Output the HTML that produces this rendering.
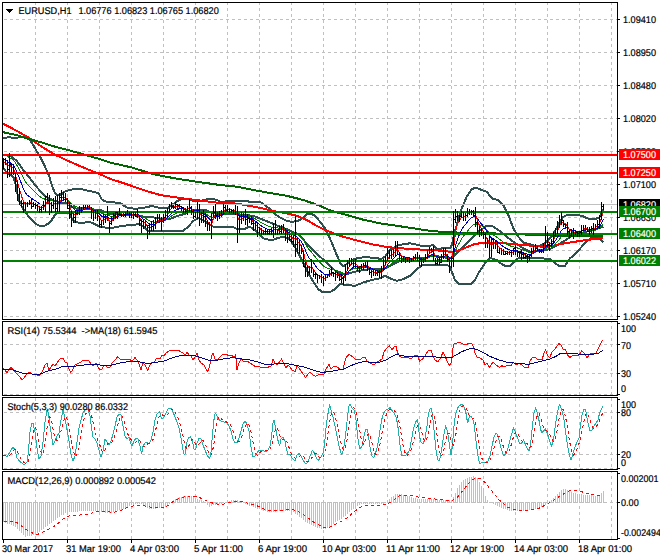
<!DOCTYPE html>
<html><head><meta charset="utf-8"><title>EURUSD,H1</title>
<style>
html,body{margin:0;padding:0;background:#fff;}
body{width:660px;height:560px;overflow:hidden;}
svg{display:block;}
svg text{font-family:"Liberation Sans",sans-serif;font-size:9.8px;text-rendering:geometricPrecision;white-space:pre;}
svg rect{shape-rendering:crispEdges;}
</style></head><body>
<svg width="660" height="560" viewBox="0 0 660 560">
<rect x="0" y="0" width="660" height="560" fill="#fff"/>
<line x1="35.5" y1="3" x2="35.5" y2="319" stroke="#c0c0c0" stroke-width="1" stroke-dasharray="3 3" stroke-dashoffset="1" shape-rendering="crispEdges"/>
<line x1="67.5" y1="3" x2="67.5" y2="319" stroke="#c0c0c0" stroke-width="1" stroke-dasharray="3 3" stroke-dashoffset="1" shape-rendering="crispEdges"/>
<line x1="99.5" y1="3" x2="99.5" y2="319" stroke="#c0c0c0" stroke-width="1" stroke-dasharray="3 3" stroke-dashoffset="1" shape-rendering="crispEdges"/>
<line x1="131.5" y1="3" x2="131.5" y2="319" stroke="#c0c0c0" stroke-width="1" stroke-dasharray="3 3" stroke-dashoffset="1" shape-rendering="crispEdges"/>
<line x1="163.5" y1="3" x2="163.5" y2="319" stroke="#c0c0c0" stroke-width="1" stroke-dasharray="3 3" stroke-dashoffset="1" shape-rendering="crispEdges"/>
<line x1="195.5" y1="3" x2="195.5" y2="319" stroke="#c0c0c0" stroke-width="1" stroke-dasharray="3 3" stroke-dashoffset="1" shape-rendering="crispEdges"/>
<line x1="227.5" y1="3" x2="227.5" y2="319" stroke="#c0c0c0" stroke-width="1" stroke-dasharray="3 3" stroke-dashoffset="1" shape-rendering="crispEdges"/>
<line x1="259.5" y1="3" x2="259.5" y2="319" stroke="#c0c0c0" stroke-width="1" stroke-dasharray="3 3" stroke-dashoffset="1" shape-rendering="crispEdges"/>
<line x1="291.5" y1="3" x2="291.5" y2="319" stroke="#c0c0c0" stroke-width="1" stroke-dasharray="3 3" stroke-dashoffset="1" shape-rendering="crispEdges"/>
<line x1="323.5" y1="3" x2="323.5" y2="319" stroke="#c0c0c0" stroke-width="1" stroke-dasharray="3 3" stroke-dashoffset="1" shape-rendering="crispEdges"/>
<line x1="355.5" y1="3" x2="355.5" y2="319" stroke="#c0c0c0" stroke-width="1" stroke-dasharray="3 3" stroke-dashoffset="1" shape-rendering="crispEdges"/>
<line x1="387.5" y1="3" x2="387.5" y2="319" stroke="#c0c0c0" stroke-width="1" stroke-dasharray="3 3" stroke-dashoffset="1" shape-rendering="crispEdges"/>
<line x1="419.5" y1="3" x2="419.5" y2="319" stroke="#c0c0c0" stroke-width="1" stroke-dasharray="3 3" stroke-dashoffset="1" shape-rendering="crispEdges"/>
<line x1="451.5" y1="3" x2="451.5" y2="319" stroke="#c0c0c0" stroke-width="1" stroke-dasharray="3 3" stroke-dashoffset="1" shape-rendering="crispEdges"/>
<line x1="483.5" y1="3" x2="483.5" y2="319" stroke="#c0c0c0" stroke-width="1" stroke-dasharray="3 3" stroke-dashoffset="1" shape-rendering="crispEdges"/>
<line x1="515.5" y1="3" x2="515.5" y2="319" stroke="#c0c0c0" stroke-width="1" stroke-dasharray="3 3" stroke-dashoffset="1" shape-rendering="crispEdges"/>
<line x1="547.5" y1="3" x2="547.5" y2="319" stroke="#c0c0c0" stroke-width="1" stroke-dasharray="3 3" stroke-dashoffset="1" shape-rendering="crispEdges"/>
<line x1="579.5" y1="3" x2="579.5" y2="319" stroke="#c0c0c0" stroke-width="1" stroke-dasharray="3 3" stroke-dashoffset="1" shape-rendering="crispEdges"/>
<line x1="611.5" y1="3" x2="611.5" y2="319" stroke="#c0c0c0" stroke-width="1" stroke-dasharray="3 3" stroke-dashoffset="1" shape-rendering="crispEdges"/>
<line x1="35.5" y1="322" x2="35.5" y2="395" stroke="#c0c0c0" stroke-width="1" stroke-dasharray="3 3" stroke-dashoffset="2" shape-rendering="crispEdges"/>
<line x1="67.5" y1="322" x2="67.5" y2="395" stroke="#c0c0c0" stroke-width="1" stroke-dasharray="3 3" stroke-dashoffset="2" shape-rendering="crispEdges"/>
<line x1="99.5" y1="322" x2="99.5" y2="395" stroke="#c0c0c0" stroke-width="1" stroke-dasharray="3 3" stroke-dashoffset="2" shape-rendering="crispEdges"/>
<line x1="131.5" y1="322" x2="131.5" y2="395" stroke="#c0c0c0" stroke-width="1" stroke-dasharray="3 3" stroke-dashoffset="2" shape-rendering="crispEdges"/>
<line x1="163.5" y1="322" x2="163.5" y2="395" stroke="#c0c0c0" stroke-width="1" stroke-dasharray="3 3" stroke-dashoffset="2" shape-rendering="crispEdges"/>
<line x1="195.5" y1="322" x2="195.5" y2="395" stroke="#c0c0c0" stroke-width="1" stroke-dasharray="3 3" stroke-dashoffset="2" shape-rendering="crispEdges"/>
<line x1="227.5" y1="322" x2="227.5" y2="395" stroke="#c0c0c0" stroke-width="1" stroke-dasharray="3 3" stroke-dashoffset="2" shape-rendering="crispEdges"/>
<line x1="259.5" y1="322" x2="259.5" y2="395" stroke="#c0c0c0" stroke-width="1" stroke-dasharray="3 3" stroke-dashoffset="2" shape-rendering="crispEdges"/>
<line x1="291.5" y1="322" x2="291.5" y2="395" stroke="#c0c0c0" stroke-width="1" stroke-dasharray="3 3" stroke-dashoffset="2" shape-rendering="crispEdges"/>
<line x1="323.5" y1="322" x2="323.5" y2="395" stroke="#c0c0c0" stroke-width="1" stroke-dasharray="3 3" stroke-dashoffset="2" shape-rendering="crispEdges"/>
<line x1="355.5" y1="322" x2="355.5" y2="395" stroke="#c0c0c0" stroke-width="1" stroke-dasharray="3 3" stroke-dashoffset="2" shape-rendering="crispEdges"/>
<line x1="387.5" y1="322" x2="387.5" y2="395" stroke="#c0c0c0" stroke-width="1" stroke-dasharray="3 3" stroke-dashoffset="2" shape-rendering="crispEdges"/>
<line x1="419.5" y1="322" x2="419.5" y2="395" stroke="#c0c0c0" stroke-width="1" stroke-dasharray="3 3" stroke-dashoffset="2" shape-rendering="crispEdges"/>
<line x1="451.5" y1="322" x2="451.5" y2="395" stroke="#c0c0c0" stroke-width="1" stroke-dasharray="3 3" stroke-dashoffset="2" shape-rendering="crispEdges"/>
<line x1="483.5" y1="322" x2="483.5" y2="395" stroke="#c0c0c0" stroke-width="1" stroke-dasharray="3 3" stroke-dashoffset="2" shape-rendering="crispEdges"/>
<line x1="515.5" y1="322" x2="515.5" y2="395" stroke="#c0c0c0" stroke-width="1" stroke-dasharray="3 3" stroke-dashoffset="2" shape-rendering="crispEdges"/>
<line x1="547.5" y1="322" x2="547.5" y2="395" stroke="#c0c0c0" stroke-width="1" stroke-dasharray="3 3" stroke-dashoffset="2" shape-rendering="crispEdges"/>
<line x1="579.5" y1="322" x2="579.5" y2="395" stroke="#c0c0c0" stroke-width="1" stroke-dasharray="3 3" stroke-dashoffset="2" shape-rendering="crispEdges"/>
<line x1="611.5" y1="322" x2="611.5" y2="395" stroke="#c0c0c0" stroke-width="1" stroke-dasharray="3 3" stroke-dashoffset="2" shape-rendering="crispEdges"/>
<line x1="35.5" y1="398" x2="35.5" y2="469" stroke="#c0c0c0" stroke-width="1" stroke-dasharray="3 3" stroke-dashoffset="0" shape-rendering="crispEdges"/>
<line x1="67.5" y1="398" x2="67.5" y2="469" stroke="#c0c0c0" stroke-width="1" stroke-dasharray="3 3" stroke-dashoffset="0" shape-rendering="crispEdges"/>
<line x1="99.5" y1="398" x2="99.5" y2="469" stroke="#c0c0c0" stroke-width="1" stroke-dasharray="3 3" stroke-dashoffset="0" shape-rendering="crispEdges"/>
<line x1="131.5" y1="398" x2="131.5" y2="469" stroke="#c0c0c0" stroke-width="1" stroke-dasharray="3 3" stroke-dashoffset="0" shape-rendering="crispEdges"/>
<line x1="163.5" y1="398" x2="163.5" y2="469" stroke="#c0c0c0" stroke-width="1" stroke-dasharray="3 3" stroke-dashoffset="0" shape-rendering="crispEdges"/>
<line x1="195.5" y1="398" x2="195.5" y2="469" stroke="#c0c0c0" stroke-width="1" stroke-dasharray="3 3" stroke-dashoffset="0" shape-rendering="crispEdges"/>
<line x1="227.5" y1="398" x2="227.5" y2="469" stroke="#c0c0c0" stroke-width="1" stroke-dasharray="3 3" stroke-dashoffset="0" shape-rendering="crispEdges"/>
<line x1="259.5" y1="398" x2="259.5" y2="469" stroke="#c0c0c0" stroke-width="1" stroke-dasharray="3 3" stroke-dashoffset="0" shape-rendering="crispEdges"/>
<line x1="291.5" y1="398" x2="291.5" y2="469" stroke="#c0c0c0" stroke-width="1" stroke-dasharray="3 3" stroke-dashoffset="0" shape-rendering="crispEdges"/>
<line x1="323.5" y1="398" x2="323.5" y2="469" stroke="#c0c0c0" stroke-width="1" stroke-dasharray="3 3" stroke-dashoffset="0" shape-rendering="crispEdges"/>
<line x1="355.5" y1="398" x2="355.5" y2="469" stroke="#c0c0c0" stroke-width="1" stroke-dasharray="3 3" stroke-dashoffset="0" shape-rendering="crispEdges"/>
<line x1="387.5" y1="398" x2="387.5" y2="469" stroke="#c0c0c0" stroke-width="1" stroke-dasharray="3 3" stroke-dashoffset="0" shape-rendering="crispEdges"/>
<line x1="419.5" y1="398" x2="419.5" y2="469" stroke="#c0c0c0" stroke-width="1" stroke-dasharray="3 3" stroke-dashoffset="0" shape-rendering="crispEdges"/>
<line x1="451.5" y1="398" x2="451.5" y2="469" stroke="#c0c0c0" stroke-width="1" stroke-dasharray="3 3" stroke-dashoffset="0" shape-rendering="crispEdges"/>
<line x1="483.5" y1="398" x2="483.5" y2="469" stroke="#c0c0c0" stroke-width="1" stroke-dasharray="3 3" stroke-dashoffset="0" shape-rendering="crispEdges"/>
<line x1="515.5" y1="398" x2="515.5" y2="469" stroke="#c0c0c0" stroke-width="1" stroke-dasharray="3 3" stroke-dashoffset="0" shape-rendering="crispEdges"/>
<line x1="547.5" y1="398" x2="547.5" y2="469" stroke="#c0c0c0" stroke-width="1" stroke-dasharray="3 3" stroke-dashoffset="0" shape-rendering="crispEdges"/>
<line x1="579.5" y1="398" x2="579.5" y2="469" stroke="#c0c0c0" stroke-width="1" stroke-dasharray="3 3" stroke-dashoffset="0" shape-rendering="crispEdges"/>
<line x1="611.5" y1="398" x2="611.5" y2="469" stroke="#c0c0c0" stroke-width="1" stroke-dasharray="3 3" stroke-dashoffset="0" shape-rendering="crispEdges"/>
<line x1="35.5" y1="472" x2="35.5" y2="539" stroke="#c0c0c0" stroke-width="1" stroke-dasharray="3 3" stroke-dashoffset="2" shape-rendering="crispEdges"/>
<line x1="67.5" y1="472" x2="67.5" y2="539" stroke="#c0c0c0" stroke-width="1" stroke-dasharray="3 3" stroke-dashoffset="2" shape-rendering="crispEdges"/>
<line x1="99.5" y1="472" x2="99.5" y2="539" stroke="#c0c0c0" stroke-width="1" stroke-dasharray="3 3" stroke-dashoffset="2" shape-rendering="crispEdges"/>
<line x1="131.5" y1="472" x2="131.5" y2="539" stroke="#c0c0c0" stroke-width="1" stroke-dasharray="3 3" stroke-dashoffset="2" shape-rendering="crispEdges"/>
<line x1="163.5" y1="472" x2="163.5" y2="539" stroke="#c0c0c0" stroke-width="1" stroke-dasharray="3 3" stroke-dashoffset="2" shape-rendering="crispEdges"/>
<line x1="195.5" y1="472" x2="195.5" y2="539" stroke="#c0c0c0" stroke-width="1" stroke-dasharray="3 3" stroke-dashoffset="2" shape-rendering="crispEdges"/>
<line x1="227.5" y1="472" x2="227.5" y2="539" stroke="#c0c0c0" stroke-width="1" stroke-dasharray="3 3" stroke-dashoffset="2" shape-rendering="crispEdges"/>
<line x1="259.5" y1="472" x2="259.5" y2="539" stroke="#c0c0c0" stroke-width="1" stroke-dasharray="3 3" stroke-dashoffset="2" shape-rendering="crispEdges"/>
<line x1="291.5" y1="472" x2="291.5" y2="539" stroke="#c0c0c0" stroke-width="1" stroke-dasharray="3 3" stroke-dashoffset="2" shape-rendering="crispEdges"/>
<line x1="323.5" y1="472" x2="323.5" y2="539" stroke="#c0c0c0" stroke-width="1" stroke-dasharray="3 3" stroke-dashoffset="2" shape-rendering="crispEdges"/>
<line x1="355.5" y1="472" x2="355.5" y2="539" stroke="#c0c0c0" stroke-width="1" stroke-dasharray="3 3" stroke-dashoffset="2" shape-rendering="crispEdges"/>
<line x1="387.5" y1="472" x2="387.5" y2="539" stroke="#c0c0c0" stroke-width="1" stroke-dasharray="3 3" stroke-dashoffset="2" shape-rendering="crispEdges"/>
<line x1="419.5" y1="472" x2="419.5" y2="539" stroke="#c0c0c0" stroke-width="1" stroke-dasharray="3 3" stroke-dashoffset="2" shape-rendering="crispEdges"/>
<line x1="451.5" y1="472" x2="451.5" y2="539" stroke="#c0c0c0" stroke-width="1" stroke-dasharray="3 3" stroke-dashoffset="2" shape-rendering="crispEdges"/>
<line x1="483.5" y1="472" x2="483.5" y2="539" stroke="#c0c0c0" stroke-width="1" stroke-dasharray="3 3" stroke-dashoffset="2" shape-rendering="crispEdges"/>
<line x1="515.5" y1="472" x2="515.5" y2="539" stroke="#c0c0c0" stroke-width="1" stroke-dasharray="3 3" stroke-dashoffset="2" shape-rendering="crispEdges"/>
<line x1="547.5" y1="472" x2="547.5" y2="539" stroke="#c0c0c0" stroke-width="1" stroke-dasharray="3 3" stroke-dashoffset="2" shape-rendering="crispEdges"/>
<line x1="579.5" y1="472" x2="579.5" y2="539" stroke="#c0c0c0" stroke-width="1" stroke-dasharray="3 3" stroke-dashoffset="2" shape-rendering="crispEdges"/>
<line x1="611.5" y1="472" x2="611.5" y2="539" stroke="#c0c0c0" stroke-width="1" stroke-dasharray="3 3" stroke-dashoffset="2" shape-rendering="crispEdges"/>
<line x1="3" y1="19.5" x2="617" y2="19.5" stroke="#c0c0c0" stroke-width="1" stroke-dasharray="3 3" stroke-dashoffset="5" shape-rendering="crispEdges"/>
<line x1="3" y1="52.5" x2="617" y2="52.5" stroke="#c0c0c0" stroke-width="1" stroke-dasharray="3 3" stroke-dashoffset="5" shape-rendering="crispEdges"/>
<line x1="3" y1="85.5" x2="617" y2="85.5" stroke="#c0c0c0" stroke-width="1" stroke-dasharray="3 3" stroke-dashoffset="5" shape-rendering="crispEdges"/>
<line x1="3" y1="118.5" x2="617" y2="118.5" stroke="#c0c0c0" stroke-width="1" stroke-dasharray="3 3" stroke-dashoffset="5" shape-rendering="crispEdges"/>
<line x1="3" y1="151.5" x2="617" y2="151.5" stroke="#c0c0c0" stroke-width="1" stroke-dasharray="3 3" stroke-dashoffset="5" shape-rendering="crispEdges"/>
<line x1="3" y1="184.5" x2="617" y2="184.5" stroke="#c0c0c0" stroke-width="1" stroke-dasharray="3 3" stroke-dashoffset="5" shape-rendering="crispEdges"/>
<line x1="3" y1="217.5" x2="617" y2="217.5" stroke="#c0c0c0" stroke-width="1" stroke-dasharray="3 3" stroke-dashoffset="5" shape-rendering="crispEdges"/>
<line x1="3" y1="250.5" x2="617" y2="250.5" stroke="#c0c0c0" stroke-width="1" stroke-dasharray="3 3" stroke-dashoffset="5" shape-rendering="crispEdges"/>
<line x1="3" y1="283.5" x2="617" y2="283.5" stroke="#c0c0c0" stroke-width="1" stroke-dasharray="3 3" stroke-dashoffset="5" shape-rendering="crispEdges"/>
<line x1="3" y1="316.5" x2="617" y2="316.5" stroke="#c0c0c0" stroke-width="1" stroke-dasharray="3 3" stroke-dashoffset="5" shape-rendering="crispEdges"/>
<line x1="3" y1="344.5" x2="617" y2="344.5" stroke="#c0c0c0" stroke-width="1" stroke-dasharray="3 3" stroke-dashoffset="5" shape-rendering="crispEdges"/>
<line x1="3" y1="373.5" x2="617" y2="373.5" stroke="#c0c0c0" stroke-width="1" stroke-dasharray="3 3" stroke-dashoffset="5" shape-rendering="crispEdges"/>
<line x1="3" y1="394.5" x2="617" y2="394.5" stroke="#c0c0c0" stroke-width="1" stroke-dasharray="3 3" stroke-dashoffset="5" shape-rendering="crispEdges"/>
<line x1="3" y1="412.5" x2="617" y2="412.5" stroke="#c0c0c0" stroke-width="1" stroke-dasharray="3 3" stroke-dashoffset="5" shape-rendering="crispEdges"/>
<line x1="3" y1="454.5" x2="617" y2="454.5" stroke="#c0c0c0" stroke-width="1" stroke-dasharray="3 3" stroke-dashoffset="5" shape-rendering="crispEdges"/>
<line x1="3" y1="468.5" x2="617" y2="468.5" stroke="#c0c0c0" stroke-width="1" stroke-dasharray="3 3" stroke-dashoffset="5" shape-rendering="crispEdges"/>
<g shape-rendering="crispEdges">
<polyline points="3.3,137.8 10.0,137.2 15.0,138.3 21.7,136.7 28.3,138.3 31.7,142.5 35.0,148.3 40.0,156.7 45.0,166.7 49.2,175.8 51.7,185.0 55.0,193.3 57.5,195.8 61.7,194.0 64.0,191.7 71.7,189.5 78.3,188.6 85.0,190.0 91.7,191.5 98.3,193.0 101.7,199.2 105.0,201.4 110.0,202.0 120.0,203.0 126.7,207.5 135.0,208.8 143.3,208.0 151.7,206.0 160.0,208.0 168.0,208.0 173.3,204.0 177.0,201.0 182.0,199.2 189.0,198.8 193.0,201.0 200.0,201.3 206.0,199.5 212.0,199.0 216.7,199.7 220.0,202.0 231.7,200.8 245.0,200.8 253.3,202.5 260.0,202.0 265.0,205.0 270.0,209.2 275.0,214.2 280.0,217.5 286.7,220.8 291.7,222.0 298.3,220.8 303.3,217.5 306.7,214.2 310.8,213.7 315.0,215.8 320.0,221.7 325.0,228.3 330.0,238.5 334.0,248.3 337.5,256.7 340.8,264.2 343.3,266.3 346.7,264.2 351.7,260.0 358.3,258.0 366.7,257.0 375.0,258.3 381.7,258.7 385.0,256.7 390.0,250.0 396.7,245.8 403.3,244.2 410.0,243.3 416.7,244.7 423.3,246.3 430.0,245.8 433.3,245.0 436.7,248.8 440.0,249.0 445.0,247.5 450.0,248.0 452.0,245.0 453.5,237.0 456.7,225.0 461.7,208.3 466.7,196.7 471.7,189.2 475.8,187.5 481.7,190.0 486.7,191.7 491.7,198.3 498.3,200.0 503.3,205.0 508.3,215.0 513.3,228.3 518.3,236.7 523.3,242.5 530.0,244.2 536.7,246.7 543.3,244.2 550.0,238.3 553.3,233.3 556.7,228.3 560.0,221.7 563.3,216.7 568.3,214.7 575.0,214.7 581.7,215.8 588.3,218.7 595.0,219.2 599.2,217.5 601.7,212.5 603.3,210.0" fill="none" stroke="#2f4f4f" stroke-width="2" stroke-linejoin="round" />
<polyline points="3.3,155.0 10.0,155.8 16.7,160.8 23.3,170.0 30.0,178.3 35.0,185.0 40.0,190.8 45.0,195.8 50.0,199.0 55.0,200.8 60.0,202.5 64.0,203.3 66.7,202.5 70.0,205.8 75.0,208.3 80.0,209.2 90.0,209.2 100.0,210.0 110.0,213.7 120.0,214.5 130.0,214.5 140.0,216.0 146.0,217.0 154.0,217.5 162.0,219.0 171.0,218.5 179.0,215.5 186.0,213.5 190.0,211.5 196.0,210.0 206.0,210.0 212.0,213.0 220.0,214.0 236.7,214.2 253.0,215.8 261.7,219.2 270.0,222.5 278.0,225.8 286.7,229.2 291.7,231.7 298.3,234.2 306.7,243.3 313.3,250.0 320.0,256.7 326.7,262.5 330.0,266.0 338.3,273.3 346.7,274.2 355.0,271.7 363.3,270.0 371.7,269.2 380.0,269.2 386.7,267.5 393.3,264.2 400.0,260.8 406.7,259.2 416.7,258.3 426.7,257.5 433.3,255.0 440.0,256.7 450.0,258.3 455.0,255.0 460.0,250.0 466.0,244.0 472.0,238.0 476.0,234.0 480.0,230.5 486.7,225.8 491.7,225.8 498.3,230.0 506.7,236.7 513.3,241.7 523.3,248.3 530.0,251.7 540.0,251.4 550.0,249.0 554.0,247.0 560.0,243.5 566.0,240.0 570.0,237.0 576.7,233.8 585.0,232.0 593.3,230.0 598.3,228.3 603.3,226.7" fill="none" stroke="#2f4f4f" stroke-width="2" stroke-linejoin="round" />
<polyline points="3.3,168.3 8.3,174.2 13.3,176.7 15.8,185.0 18.3,198.3 20.8,205.0 25.0,211.7 30.0,218.3 35.0,223.3 40.0,226.2 45.0,225.5 50.0,222.5 55.0,215.0 58.3,212.5 70.0,212.5 71.7,218.3 75.0,221.7 80.0,223.0 85.0,222.5 90.0,222.0 95.0,224.2 100.0,226.7 105.0,227.5 110.0,228.3 120.0,226.3 130.0,225.0 140.0,224.2 143.3,226.7 148.3,230.8 160.0,231.3 176.7,231.3 183.3,230.8 188.3,226.7 193.3,220.8 198.3,218.3 203.3,220.0 208.3,224.2 213.3,226.7 220.0,226.9 233.3,227.0 237.0,229.0 245.0,229.0 249.0,226.5 252.0,228.0 256.0,231.0 260.0,235.5 264.0,238.5 268.0,239.5 274.0,239.5 278.0,238.0 283.3,236.6 288.3,238.3 293.3,244.2 298.3,253.3 303.3,263.3 308.3,273.3 313.3,281.7 318.3,289.2 323.3,292.5 330.0,292.0 335.0,289.2 340.0,284.2 346.7,285.0 355.0,285.8 363.3,282.5 371.7,280.0 380.0,278.3 385.0,275.8 390.0,278.3 396.7,280.8 403.3,279.2 410.0,275.8 415.0,270.8 420.0,266.7 422.0,265.0 430.0,264.8 440.0,265.0 447.0,265.0 450.0,266.7 452.5,273.3 455.0,280.0 458.3,283.7 471.7,283.7 475.0,280.0 478.3,273.3 481.7,268.3 486.7,260.8 490.0,257.8 496.7,260.0 501.7,264.2 505.0,265.8 510.0,265.8 513.3,262.5 518.3,258.3 525.0,257.5 530.0,258.3 540.0,258.0 550.0,259.2 556.7,264.2 560.0,266.3 565.0,265.8 570.0,258.3 575.0,254.2 581.7,246.7 586.7,241.7 591.7,237.5 596.7,237.5 600.0,239.2 603.3,242.0" fill="none" stroke="#2f4f4f" stroke-width="2" stroke-linejoin="round" />
<polyline points="3.0,123.7 16.7,130.8 28.3,137.5 41.7,146.7 55.0,154.7 66.7,160.3 83.3,167.5 100.0,174.2 110.0,178.8 126.7,184.2 143.3,190.0 160.0,195.0 176.7,197.5 193.3,199.7 210.0,201.7 220.0,203.0 233.3,203.3 245.0,205.0 261.7,208.3 275.0,211.3 286.7,213.3 296.7,215.8 306.7,220.0 316.7,225.8 325.0,230.0 330.0,232.0 340.0,235.8 355.0,240.0 371.7,244.2 385.0,246.7 396.7,248.0 413.3,249.2 430.0,250.0 440.0,250.6 450.0,251.7 454.0,251.5 460.0,250.0 466.0,247.5 472.0,245.0 476.0,243.8 483.0,243.0 490.0,243.2 506.7,243.5 523.3,245.0 540.0,246.5 550.0,246.5 560.0,244.2 573.3,242.0 586.7,240.0 596.7,238.7 603.3,238.0" fill="none" stroke="#ff0000" stroke-width="2" stroke-linejoin="round" />
<polyline points="3.0,132.2 16.7,135.0 28.3,138.8 41.7,142.5 55.0,146.7 66.7,149.7 83.3,154.2 100.0,159.2 110.0,162.5 131.7,167.5 153.3,174.2 176.7,178.7 196.7,181.7 220.0,185.0 236.7,186.7 253.3,190.0 270.0,193.0 286.7,195.8 303.3,200.0 320.0,205.8 330.0,210.4 346.7,215.0 363.3,219.7 380.0,223.3 396.7,225.8 413.3,228.3 430.0,230.8 440.0,231.7 456.7,232.5 490.0,233.3 515.0,234.2 531.7,234.7 550.0,235.5 575.0,236.0 603.0,236.0" fill="none" stroke="#006400" stroke-width="2" stroke-linejoin="round" />
<polyline points="3.5,153.8 5.5,154.7 7.5,156.4 9.5,157.5 11.5,158.9 13.5,160.1 15.5,162.9 17.5,166.2 19.5,170.0 21.5,174.1 23.5,178.2 25.5,181.7 27.5,184.5 29.5,186.7 31.5,188.7 33.5,190.7 35.5,192.5 37.5,194.4 39.5,196.2 41.5,197.8 43.5,198.7 45.5,199.3 47.5,199.1 49.5,199.8 51.5,200.7 53.5,201.0 55.5,201.3 57.5,201.5 59.5,201.6 61.5,200.7 63.5,200.0 65.5,199.7 67.5,200.1 69.5,201.4 71.5,203.6 73.5,205.3 75.5,206.6 77.5,207.3 79.5,207.7 81.5,207.9 83.5,207.8 85.5,207.6 87.5,207.5 89.5,207.4 91.5,208.0 93.5,208.9 95.5,209.5 97.5,210.3 99.5,211.7 101.5,213.1 103.5,213.8 105.5,214.4 107.5,214.3 109.5,215.9 111.5,216.5 113.5,216.5 115.5,216.3 117.5,216.1 119.5,215.5 121.5,215.4 123.5,215.3 125.5,215.2 127.5,214.8 129.5,214.8 131.5,214.7 133.5,214.8 135.5,214.8 137.5,214.5 139.5,215.3 141.5,216.6 143.5,217.4 145.5,218.2 147.5,219.9 149.5,220.9 151.5,221.5 153.5,222.0 155.5,222.1 157.5,221.5 159.5,221.1 161.5,221.3 163.5,220.9 165.5,220.0 167.5,219.0 169.5,217.6 171.5,216.0 173.5,214.9 175.5,213.6 177.5,212.7 179.5,211.9 181.5,211.4 183.5,211.1 185.5,211.0 187.5,210.9 189.5,210.2 191.5,210.1 193.5,210.6 195.5,211.0 197.5,210.8 199.5,211.3 201.5,212.0 203.5,212.6 205.5,213.4 207.5,214.9 209.5,216.3 211.5,217.5 213.5,216.7 215.5,216.1 217.5,216.0 219.5,215.9 221.5,215.5 223.5,214.6 225.5,213.8 227.5,213.1 229.5,212.7 231.5,212.5 233.5,212.3 235.5,211.9 237.5,213.5 239.5,214.8 241.5,215.1 243.5,215.3 245.5,215.5 247.5,216.0 249.5,216.5 251.5,216.9 253.5,218.0 255.5,219.0 257.5,220.2 259.5,221.5 261.5,222.7 263.5,223.9 265.5,224.8 267.5,225.7 269.5,226.6 271.5,227.1 273.5,227.5 275.5,227.4 277.5,228.0 279.5,228.2 281.5,228.3 283.5,228.2 285.5,229.0 287.5,229.8 289.5,230.7 291.5,231.7 293.5,232.9 295.5,233.2 297.5,234.7 299.5,236.1 301.5,237.7 303.5,240.3 305.5,243.9 307.5,247.3 309.5,250.1 311.5,252.1 313.5,254.7 315.5,257.3 317.5,259.8 319.5,261.9 321.5,263.9 323.5,265.9 325.5,267.3 327.5,268.3 329.5,268.9 331.5,269.2 333.5,269.8 335.5,270.4 337.5,270.9 339.5,271.6 341.5,272.4 343.5,273.3 345.5,273.2 347.5,272.2 349.5,270.9 351.5,269.7 353.5,268.9 355.5,268.2 357.5,268.1 359.5,268.2 361.5,268.0 363.5,267.8 365.5,267.4 367.5,267.2 369.5,267.7 371.5,268.4 373.5,268.9 375.5,269.4 377.5,269.8 379.5,270.3 381.5,270.5 383.5,269.8 385.5,268.7 387.5,266.8 389.5,265.2 391.5,263.7 393.5,262.3 395.5,260.6 397.5,258.9 399.5,258.6 401.5,258.6 403.5,258.6 405.5,258.7 407.5,258.8 409.5,258.9 411.5,258.9 413.5,258.8 415.5,258.5 417.5,258.2 419.5,258.4 421.5,258.9 423.5,259.1 425.5,258.9 427.5,258.3 429.5,257.2 431.5,256.3 433.5,255.8 435.5,256.5 437.5,257.1 439.5,257.6 441.5,257.6 443.5,257.0 445.5,256.3 447.5,256.5 449.5,257.5 451.5,258.0 453.5,255.6 455.5,250.6 457.5,246.2 459.5,242.7 461.5,239.1 463.5,236.2 465.5,233.8 467.5,231.0 469.5,228.5 471.5,226.4 473.5,224.8 475.5,223.8 477.5,224.2 479.5,225.0 481.5,225.9 483.5,227.0 485.5,228.6 487.5,230.3 489.5,232.4 491.5,234.2 493.5,235.3 495.5,236.4 497.5,237.7 499.5,239.3 501.5,240.8 503.5,242.2 505.5,243.5 507.5,244.6 509.5,245.5 511.5,246.5 513.5,247.0 515.5,247.3 517.5,248.0 519.5,248.8 521.5,249.5 523.5,250.2 525.5,250.9 527.5,251.7 529.5,252.4 531.5,252.4 533.5,251.9 535.5,251.3 537.5,250.9 539.5,250.8 541.5,250.8 543.5,250.4 545.5,248.7 547.5,247.5 549.5,247.2 551.5,246.7 553.5,245.5 555.5,243.8 557.5,241.7 559.5,239.1 561.5,236.5 563.5,234.8 565.5,233.6 567.5,232.9 569.5,233.0 571.5,233.0 573.5,232.9 575.5,232.8 577.5,232.9 579.5,233.0 581.5,232.5 583.5,231.9 585.5,231.4 587.5,231.1 589.5,231.0 591.5,230.8 593.5,230.5 595.5,230.0 597.5,229.2 599.5,228.3 601.5,226.1 603.5,223.6" fill="none" stroke="#008000" stroke-width="1" stroke-linejoin="round" />
<polyline points="3.5,159.5 5.5,159.8 7.5,161.8 9.5,162.4 11.5,163.8 13.5,164.9 15.5,168.7 17.5,173.5 19.5,178.5 21.5,183.9 23.5,189.0 25.5,192.9 27.5,195.3 29.5,196.8 31.5,198.2 33.5,199.6 35.5,200.8 37.5,202.3 39.5,203.8 41.5,205.0 43.5,205.0 45.5,204.7 47.5,203.1 49.5,203.4 51.5,204.3 53.5,203.9 55.5,203.8 57.5,203.7 59.5,203.3 61.5,201.4 63.5,200.0 65.5,199.4 67.5,200.2 69.5,202.5 71.5,206.1 73.5,208.6 75.5,210.2 77.5,210.7 79.5,210.6 81.5,210.4 83.5,209.6 85.5,208.9 87.5,208.4 89.5,208.0 91.5,208.9 93.5,210.3 95.5,211.1 97.5,212.1 99.5,214.2 101.5,216.2 103.5,216.8 105.5,217.2 107.5,216.4 109.5,218.7 111.5,219.1 113.5,218.6 115.5,217.7 117.5,217.1 119.5,215.8 121.5,215.5 123.5,215.3 125.5,215.1 127.5,214.5 129.5,214.5 131.5,214.4 133.5,214.7 135.5,214.6 137.5,214.3 139.5,215.7 141.5,217.8 143.5,219.1 145.5,220.1 147.5,222.6 149.5,223.9 151.5,224.3 153.5,224.5 155.5,224.1 157.5,222.7 159.5,221.6 161.5,221.9 163.5,221.1 165.5,219.4 167.5,217.7 169.5,215.5 171.5,213.2 173.5,211.8 175.5,210.3 177.5,209.3 179.5,208.7 181.5,208.5 183.5,208.7 185.5,209.0 187.5,209.2 189.5,208.3 191.5,208.6 193.5,209.8 195.5,210.8 197.5,210.5 199.5,211.4 201.5,212.7 203.5,213.5 205.5,214.8 207.5,217.1 209.5,219.2 211.5,220.6 213.5,218.6 215.5,217.0 217.5,216.7 219.5,216.3 221.5,215.5 223.5,213.9 225.5,212.6 227.5,211.6 229.5,211.3 231.5,211.2 233.5,211.1 235.5,210.8 237.5,213.8 239.5,216.0 241.5,216.4 243.5,216.3 245.5,216.4 247.5,217.1 249.5,217.8 251.5,218.3 253.5,220.0 255.5,221.2 257.5,222.9 259.5,224.6 261.5,226.0 263.5,227.4 265.5,228.3 267.5,229.2 269.5,229.8 271.5,230.1 273.5,230.1 275.5,229.3 277.5,229.9 279.5,229.8 281.5,229.6 283.5,229.2 285.5,230.4 287.5,231.6 289.5,232.8 291.5,234.1 293.5,235.6 295.5,235.6 297.5,237.7 299.5,239.6 301.5,241.7 303.5,245.4 305.5,250.7 307.5,255.2 309.5,258.5 311.5,260.1 313.5,262.9 315.5,265.7 317.5,268.4 319.5,270.2 321.5,271.9 323.5,273.7 325.5,274.4 327.5,274.6 329.5,274.3 331.5,273.6 333.5,273.7 335.5,274.0 337.5,274.0 339.5,274.6 341.5,275.3 343.5,276.3 345.5,275.4 347.5,273.1 349.5,270.6 351.5,268.6 353.5,267.4 355.5,266.4 357.5,266.7 359.5,267.2 361.5,267.1 363.5,266.8 365.5,266.4 367.5,266.2 369.5,267.3 371.5,268.6 373.5,269.5 375.5,270.2 377.5,270.8 379.5,271.5 381.5,271.6 383.5,270.1 385.5,268.0 387.5,264.9 389.5,262.3 391.5,260.4 393.5,258.7 395.5,256.4 397.5,254.4 399.5,254.7 401.5,255.7 403.5,256.4 405.5,257.1 407.5,257.6 409.5,258.0 411.5,258.3 413.5,258.1 415.5,257.8 417.5,257.4 419.5,258.0 421.5,258.9 423.5,259.3 425.5,258.9 427.5,257.7 429.5,256.0 431.5,254.7 433.5,254.2 435.5,255.6 437.5,256.9 439.5,257.9 441.5,257.9 443.5,256.7 445.5,255.5 447.5,256.0 449.5,258.0 451.5,258.7 453.5,254.3 455.5,245.7 457.5,239.0 459.5,234.3 461.5,229.8 463.5,226.7 465.5,224.5 467.5,221.7 469.5,219.4 471.5,217.7 473.5,216.7 475.5,216.7 477.5,219.0 479.5,221.6 481.5,223.9 483.5,226.3 485.5,229.3 487.5,232.3 489.5,235.5 491.5,238.1 493.5,239.1 495.5,240.2 497.5,241.7 499.5,243.6 501.5,245.3 503.5,246.7 505.5,248.1 507.5,249.0 509.5,249.7 511.5,250.5 513.5,250.6 515.5,250.3 517.5,250.9 519.5,251.6 521.5,252.2 523.5,252.9 525.5,253.5 527.5,254.4 529.5,255.1 531.5,254.4 533.5,253.2 535.5,251.8 537.5,250.9 539.5,250.8 541.5,250.8 543.5,250.1 545.5,247.0 547.5,245.3 549.5,245.4 551.5,244.7 553.5,243.1 555.5,240.7 557.5,237.6 559.5,233.9 561.5,230.4 563.5,228.7 565.5,228.0 567.5,227.9 569.5,229.2 571.5,230.0 573.5,230.6 575.5,230.9 577.5,231.5 579.5,232.0 581.5,231.4 583.5,230.5 585.5,229.9 587.5,229.7 589.5,229.8 591.5,229.7 593.5,229.4 595.5,228.7 597.5,227.7 599.5,226.4 601.5,222.8 603.5,219.3" fill="none" stroke="#0000c0" stroke-width="1" stroke-linejoin="round" />
<polyline points="3.5,162.8 5.5,161.9 7.5,165.2 9.5,165.0 11.5,166.7 13.5,167.9 15.5,174.9 17.5,182.5 19.5,189.2 21.5,196.1 23.5,201.6 25.5,203.9 27.5,204.0 29.5,202.9 31.5,203.1 33.5,203.7 35.5,204.5 37.5,206.0 39.5,207.6 41.5,208.3 43.5,206.7 45.5,205.1 47.5,201.4 49.5,202.8 51.5,205.2 53.5,204.0 55.5,203.7 57.5,203.4 59.5,202.7 61.5,198.7 63.5,197.0 65.5,197.0 67.5,200.1 69.5,205.3 71.5,212.0 73.5,214.6 75.5,215.2 77.5,213.8 79.5,212.0 81.5,210.8 83.5,208.8 85.5,207.8 87.5,207.1 89.5,206.8 91.5,209.5 93.5,212.4 95.5,213.1 97.5,214.3 99.5,217.9 101.5,220.6 103.5,219.8 105.5,219.1 107.5,216.3 109.5,221.7 111.5,221.1 113.5,218.9 115.5,216.8 117.5,215.9 119.5,213.6 121.5,214.0 123.5,214.3 125.5,214.4 127.5,213.4 129.5,213.8 131.5,214.0 133.5,214.8 135.5,214.6 137.5,213.8 139.5,217.3 141.5,221.3 143.5,222.4 145.5,222.9 147.5,227.2 149.5,227.9 151.5,226.7 153.5,226.1 155.5,224.4 157.5,221.0 159.5,219.4 161.5,221.3 163.5,219.8 165.5,216.6 167.5,214.2 169.5,211.0 171.5,208.1 173.5,207.4 175.5,206.2 177.5,206.1 179.5,206.3 181.5,207.0 183.5,208.1 185.5,209.1 187.5,209.7 189.5,207.3 191.5,208.5 193.5,211.1 195.5,212.7 197.5,211.1 199.5,212.8 201.5,215.0 203.5,215.6 205.5,217.4 207.5,221.3 209.5,223.9 211.5,224.8 213.5,218.0 215.5,214.8 217.5,215.3 219.5,215.0 221.5,213.9 223.5,211.2 225.5,209.6 227.5,208.8 229.5,209.5 231.5,210.1 233.5,210.6 235.5,210.0 237.5,217.1 239.5,220.4 241.5,219.1 243.5,217.7 245.5,217.2 247.5,218.4 249.5,219.2 251.5,219.7 253.5,222.7 255.5,224.1 257.5,226.6 259.5,228.4 261.5,229.8 263.5,231.0 265.5,231.1 267.5,231.7 269.5,232.0 271.5,231.5 273.5,230.7 275.5,228.7 277.5,230.4 279.5,229.9 281.5,229.5 283.5,228.5 285.5,231.5 287.5,233.7 289.5,235.4 291.5,236.9 293.5,239.0 295.5,237.4 297.5,241.2 299.5,243.6 301.5,246.3 303.5,252.4 305.5,260.8 307.5,265.8 309.5,267.9 311.5,266.9 313.5,269.8 315.5,272.5 317.5,275.1 319.5,275.8 321.5,276.8 323.5,278.5 325.5,277.8 327.5,276.5 329.5,274.9 331.5,272.9 333.5,273.5 335.5,274.2 337.5,274.2 339.5,275.5 341.5,276.6 343.5,278.2 345.5,275.1 347.5,270.2 349.5,266.0 351.5,263.7 353.5,263.5 355.5,263.2 357.5,265.5 359.5,267.2 361.5,266.9 363.5,266.4 365.5,265.6 367.5,265.7 369.5,268.3 371.5,270.8 373.5,271.8 375.5,272.3 377.5,272.5 379.5,273.1 381.5,272.7 383.5,268.7 385.5,264.6 387.5,259.3 389.5,256.4 391.5,255.1 393.5,253.8 395.5,251.0 397.5,249.3 399.5,252.6 401.5,255.8 403.5,257.3 405.5,258.4 407.5,258.8 409.5,259.2 411.5,259.2 413.5,258.4 415.5,257.6 417.5,256.8 419.5,258.4 421.5,260.3 423.5,260.4 425.5,259.1 427.5,256.3 429.5,253.1 431.5,251.6 433.5,252.0 435.5,256.4 437.5,258.9 439.5,260.1 441.5,258.9 443.5,255.8 445.5,253.5 447.5,255.6 449.5,260.2 451.5,260.8 453.5,249.8 455.5,232.6 457.5,224.1 459.5,221.0 461.5,217.5 463.5,216.8 465.5,216.8 467.5,214.3 469.5,212.8 471.5,212.3 473.5,212.8 475.5,214.8 477.5,220.9 479.5,225.8 481.5,228.8 483.5,231.8 485.5,235.9 487.5,239.2 489.5,243.0 491.5,245.1 493.5,243.9 495.5,243.8 497.5,245.5 499.5,247.9 501.5,249.6 503.5,250.7 505.5,251.7 507.5,252.0 509.5,252.1 511.5,252.6 513.5,251.8 515.5,250.5 517.5,251.8 519.5,252.9 521.5,253.6 523.5,254.4 525.5,255.1 527.5,256.4 529.5,256.8 531.5,254.4 533.5,251.7 535.5,249.2 537.5,248.6 539.5,249.6 541.5,250.2 543.5,249.0 545.5,242.6 547.5,240.8 549.5,243.3 551.5,242.9 553.5,240.2 555.5,236.1 557.5,231.5 559.5,226.3 561.5,222.1 563.5,222.4 565.5,224.0 567.5,225.9 569.5,229.7 571.5,231.3 573.5,232.0 575.5,232.0 577.5,232.8 579.5,233.3 581.5,231.3 583.5,229.4 585.5,228.6 587.5,228.8 589.5,229.5 591.5,229.4 593.5,228.8 595.5,227.7 597.5,225.8 599.5,223.8 601.5,217.1 603.5,211.9" fill="none" stroke="#ff0000" stroke-width="1" stroke-linejoin="round" />
<rect x="3" y="204" width="614" height="1" fill="#c0c0c0"/>
<rect x="3" y="154" width="614" height="2" fill="#ff0000"/>
<rect x="3" y="172" width="614" height="2" fill="#ff0000"/>
<rect x="3" y="211" width="614" height="2" fill="#008000"/>
<rect x="3" y="233" width="614" height="2" fill="#008000"/>
<rect x="3" y="260" width="614" height="2" fill="#008000"/>
<rect x="3" y="158" width="1" height="11" fill="#000"/>
<rect x="5" y="158" width="1" height="7" fill="#000"/>
<rect x="7" y="160" width="1" height="18" fill="#000"/>
<rect x="9" y="153" width="1" height="24" fill="#000"/>
<rect x="11" y="163" width="1" height="12" fill="#000"/>
<rect x="13" y="164" width="1" height="11" fill="#000"/>
<rect x="15" y="173" width="1" height="19" fill="#000"/>
<rect x="17" y="180" width="1" height="21" fill="#000"/>
<rect x="19" y="188" width="1" height="17" fill="#000"/>
<rect x="21" y="200" width="1" height="7" fill="#000"/>
<rect x="23" y="202" width="1" height="11" fill="#000"/>
<rect x="25" y="202" width="1" height="9" fill="#000"/>
<rect x="27" y="202" width="1" height="5" fill="#000"/>
<rect x="29" y="200" width="1" height="5" fill="#000"/>
<rect x="31" y="199" width="1" height="10" fill="#000"/>
<rect x="33" y="202" width="1" height="5" fill="#000"/>
<rect x="35" y="203" width="1" height="6" fill="#000"/>
<rect x="37" y="204" width="1" height="7" fill="#000"/>
<rect x="39" y="206" width="1" height="7" fill="#000"/>
<rect x="41" y="206" width="1" height="7" fill="#000"/>
<rect x="43" y="201" width="1" height="9" fill="#000"/>
<rect x="45" y="196" width="1" height="16" fill="#000"/>
<rect x="47" y="193" width="1" height="10" fill="#000"/>
<rect x="49" y="195" width="1" height="20" fill="#000"/>
<rect x="51" y="202" width="1" height="11" fill="#000"/>
<rect x="53" y="198" width="1" height="11" fill="#000"/>
<rect x="55" y="196" width="1" height="16" fill="#000"/>
<rect x="57" y="195" width="1" height="17" fill="#000"/>
<rect x="59" y="193" width="1" height="19" fill="#000"/>
<rect x="61" y="190" width="1" height="11" fill="#000"/>
<rect x="63" y="192" width="1" height="8" fill="#000"/>
<rect x="65" y="193" width="1" height="9" fill="#000"/>
<rect x="67" y="198" width="1" height="11" fill="#000"/>
<rect x="69" y="204" width="1" height="15" fill="#000"/>
<rect x="71" y="211" width="1" height="16" fill="#000"/>
<rect x="73" y="213" width="1" height="10" fill="#000"/>
<rect x="75" y="210" width="1" height="13" fill="#000"/>
<rect x="77" y="210" width="1" height="5" fill="#000"/>
<rect x="79" y="206" width="1" height="9" fill="#000"/>
<rect x="81" y="207" width="1" height="6" fill="#000"/>
<rect x="83" y="205" width="1" height="4" fill="#000"/>
<rect x="85" y="205" width="1" height="4" fill="#000"/>
<rect x="87" y="205" width="1" height="4" fill="#000"/>
<rect x="89" y="205" width="1" height="4" fill="#000"/>
<rect x="91" y="207" width="1" height="12" fill="#000"/>
<rect x="93" y="210" width="1" height="11" fill="#000"/>
<rect x="95" y="210" width="1" height="9" fill="#000"/>
<rect x="97" y="210" width="1" height="11" fill="#000"/>
<rect x="99" y="216" width="1" height="11" fill="#000"/>
<rect x="101" y="220" width="1" height="8" fill="#000"/>
<rect x="103" y="214" width="1" height="11" fill="#000"/>
<rect x="105" y="215" width="1" height="8" fill="#000"/>
<rect x="107" y="206" width="1" height="15" fill="#000"/>
<rect x="109" y="222" width="1" height="11" fill="#000"/>
<rect x="111" y="216" width="1" height="9" fill="#000"/>
<rect x="113" y="213" width="1" height="8" fill="#000"/>
<rect x="115" y="212" width="1" height="7" fill="#000"/>
<rect x="117" y="212" width="1" height="7" fill="#000"/>
<rect x="119" y="208" width="1" height="7" fill="#000"/>
<rect x="121" y="214" width="1" height="3" fill="#000"/>
<rect x="123" y="213" width="1" height="4" fill="#000"/>
<rect x="125" y="212" width="1" height="5" fill="#000"/>
<rect x="127" y="210" width="1" height="5" fill="#000"/>
<rect x="129" y="212" width="1" height="6" fill="#000"/>
<rect x="131" y="212" width="1" height="6" fill="#000"/>
<rect x="133" y="212" width="1" height="7" fill="#000"/>
<rect x="135" y="212" width="1" height="5" fill="#000"/>
<rect x="137" y="209" width="1" height="9" fill="#000"/>
<rect x="139" y="216" width="1" height="10" fill="#000"/>
<rect x="141" y="219" width="1" height="14" fill="#000"/>
<rect x="143" y="220" width="1" height="9" fill="#000"/>
<rect x="145" y="220" width="1" height="8" fill="#000"/>
<rect x="147" y="225" width="1" height="14" fill="#000"/>
<rect x="149" y="223" width="1" height="12" fill="#000"/>
<rect x="151" y="221" width="1" height="10" fill="#000"/>
<rect x="153" y="220" width="1" height="11" fill="#000"/>
<rect x="155" y="217" width="1" height="12" fill="#000"/>
<rect x="157" y="214" width="1" height="8" fill="#000"/>
<rect x="159" y="214" width="1" height="9" fill="#000"/>
<rect x="161" y="217" width="1" height="14" fill="#000"/>
<rect x="163" y="214" width="1" height="9" fill="#000"/>
<rect x="165" y="210" width="1" height="8" fill="#000"/>
<rect x="167" y="208" width="1" height="9" fill="#000"/>
<rect x="169" y="204" width="1" height="9" fill="#000"/>
<rect x="171" y="202" width="1" height="7" fill="#000"/>
<rect x="173" y="205" width="1" height="4" fill="#000"/>
<rect x="175" y="202" width="1" height="7" fill="#000"/>
<rect x="177" y="204" width="1" height="5" fill="#000"/>
<rect x="179" y="204" width="1" height="5" fill="#000"/>
<rect x="181" y="206" width="1" height="5" fill="#000"/>
<rect x="183" y="207" width="1" height="6" fill="#000"/>
<rect x="185" y="208" width="1" height="5" fill="#000"/>
<rect x="187" y="206" width="1" height="9" fill="#000"/>
<rect x="189" y="199" width="1" height="13" fill="#000"/>
<rect x="191" y="206" width="1" height="9" fill="#000"/>
<rect x="193" y="210" width="1" height="9" fill="#000"/>
<rect x="195" y="212" width="1" height="6" fill="#000"/>
<rect x="197" y="202" width="1" height="17" fill="#000"/>
<rect x="199" y="204" width="1" height="22" fill="#000"/>
<rect x="201" y="212" width="1" height="11" fill="#000"/>
<rect x="203" y="210" width="1" height="13" fill="#000"/>
<rect x="205" y="213" width="1" height="14" fill="#000"/>
<rect x="207" y="220" width="1" height="11" fill="#000"/>
<rect x="209" y="222" width="1" height="9" fill="#000"/>
<rect x="211" y="213" width="1" height="26" fill="#000"/>
<rect x="213" y="206" width="1" height="11" fill="#000"/>
<rect x="215" y="204" width="1" height="15" fill="#000"/>
<rect x="217" y="212" width="1" height="9" fill="#000"/>
<rect x="219" y="211" width="1" height="8" fill="#000"/>
<rect x="221" y="210" width="1" height="7" fill="#000"/>
<rect x="223" y="204" width="1" height="11" fill="#000"/>
<rect x="225" y="205" width="1" height="7" fill="#000"/>
<rect x="227" y="205" width="1" height="7" fill="#000"/>
<rect x="229" y="208" width="1" height="5" fill="#000"/>
<rect x="231" y="209" width="1" height="4" fill="#000"/>
<rect x="233" y="209" width="1" height="5" fill="#000"/>
<rect x="235" y="205" width="1" height="10" fill="#000"/>
<rect x="237" y="206" width="1" height="37" fill="#000"/>
<rect x="239" y="215" width="1" height="18" fill="#000"/>
<rect x="241" y="212" width="1" height="12" fill="#000"/>
<rect x="243" y="213" width="1" height="8" fill="#000"/>
<rect x="245" y="209" width="1" height="16" fill="#000"/>
<rect x="247" y="214" width="1" height="12" fill="#000"/>
<rect x="249" y="218" width="1" height="5" fill="#000"/>
<rect x="251" y="216" width="1" height="9" fill="#000"/>
<rect x="253" y="221" width="1" height="10" fill="#000"/>
<rect x="255" y="222" width="1" height="8" fill="#000"/>
<rect x="257" y="222" width="1" height="15" fill="#000"/>
<rect x="259" y="227" width="1" height="8" fill="#000"/>
<rect x="261" y="228" width="1" height="7" fill="#000"/>
<rect x="263" y="230" width="1" height="5" fill="#000"/>
<rect x="265" y="228" width="1" height="7" fill="#000"/>
<rect x="267" y="230" width="1" height="5" fill="#000"/>
<rect x="269" y="230" width="1" height="5" fill="#000"/>
<rect x="271" y="228" width="1" height="7" fill="#000"/>
<rect x="273" y="223" width="1" height="15" fill="#000"/>
<rect x="275" y="220" width="1" height="15" fill="#000"/>
<rect x="277" y="230" width="1" height="5" fill="#000"/>
<rect x="279" y="226" width="1" height="8" fill="#000"/>
<rect x="281" y="225" width="1" height="9" fill="#000"/>
<rect x="283" y="224" width="1" height="9" fill="#000"/>
<rect x="285" y="228" width="1" height="13" fill="#000"/>
<rect x="287" y="230" width="1" height="13" fill="#000"/>
<rect x="289" y="234" width="1" height="7" fill="#000"/>
<rect x="291" y="235" width="1" height="8" fill="#000"/>
<rect x="293" y="236" width="1" height="11" fill="#000"/>
<rect x="295" y="216" width="1" height="41" fill="#000"/>
<rect x="297" y="238" width="1" height="15" fill="#000"/>
<rect x="299" y="239" width="1" height="15" fill="#000"/>
<rect x="301" y="245" width="1" height="9" fill="#000"/>
<rect x="303" y="250" width="1" height="17" fill="#000"/>
<rect x="305" y="262" width="1" height="15" fill="#000"/>
<rect x="307" y="265" width="1" height="12" fill="#000"/>
<rect x="309" y="266" width="1" height="9" fill="#000"/>
<rect x="311" y="260" width="1" height="13" fill="#000"/>
<rect x="313" y="269" width="1" height="8" fill="#000"/>
<rect x="315" y="272" width="1" height="7" fill="#000"/>
<rect x="317" y="274" width="1" height="9" fill="#000"/>
<rect x="319" y="275" width="1" height="4" fill="#000"/>
<rect x="321" y="274" width="1" height="9" fill="#000"/>
<rect x="323" y="276" width="1" height="10" fill="#000"/>
<rect x="325" y="274" width="1" height="7" fill="#000"/>
<rect x="327" y="274" width="1" height="4" fill="#000"/>
<rect x="329" y="270" width="1" height="7" fill="#000"/>
<rect x="331" y="267" width="1" height="9" fill="#000"/>
<rect x="333" y="272" width="1" height="5" fill="#000"/>
<rect x="335" y="270" width="1" height="11" fill="#000"/>
<rect x="337" y="272" width="1" height="6" fill="#000"/>
<rect x="339" y="274" width="1" height="7" fill="#000"/>
<rect x="341" y="274" width="1" height="9" fill="#000"/>
<rect x="343" y="276" width="1" height="9" fill="#000"/>
<rect x="345" y="264" width="1" height="17" fill="#000"/>
<rect x="347" y="260" width="1" height="11" fill="#000"/>
<rect x="349" y="258" width="1" height="9" fill="#000"/>
<rect x="351" y="258" width="1" height="7" fill="#000"/>
<rect x="353" y="260" width="1" height="7" fill="#000"/>
<rect x="355" y="259" width="1" height="9" fill="#000"/>
<rect x="357" y="266" width="1" height="5" fill="#000"/>
<rect x="359" y="266" width="1" height="7" fill="#000"/>
<rect x="361" y="264" width="1" height="6" fill="#000"/>
<rect x="363" y="263" width="1" height="7" fill="#000"/>
<rect x="365" y="262" width="1" height="6" fill="#000"/>
<rect x="367" y="261" width="1" height="10" fill="#000"/>
<rect x="369" y="268" width="1" height="7" fill="#000"/>
<rect x="371" y="270" width="1" height="8" fill="#000"/>
<rect x="373" y="270" width="1" height="6" fill="#000"/>
<rect x="375" y="270" width="1" height="6" fill="#000"/>
<rect x="377" y="270" width="1" height="6" fill="#000"/>
<rect x="379" y="270" width="1" height="8" fill="#000"/>
<rect x="381" y="266" width="1" height="13" fill="#000"/>
<rect x="383" y="259" width="1" height="12" fill="#000"/>
<rect x="385" y="256" width="1" height="9" fill="#000"/>
<rect x="387" y="248" width="1" height="13" fill="#000"/>
<rect x="389" y="250" width="1" height="9" fill="#000"/>
<rect x="391" y="250" width="1" height="9" fill="#000"/>
<rect x="393" y="249" width="1" height="8" fill="#000"/>
<rect x="395" y="241" width="1" height="16" fill="#000"/>
<rect x="397" y="241" width="1" height="14" fill="#000"/>
<rect x="399" y="252" width="1" height="9" fill="#000"/>
<rect x="401" y="256" width="1" height="7" fill="#000"/>
<rect x="403" y="256" width="1" height="6" fill="#000"/>
<rect x="405" y="258" width="1" height="5" fill="#000"/>
<rect x="407" y="258" width="1" height="4" fill="#000"/>
<rect x="409" y="258" width="1" height="5" fill="#000"/>
<rect x="411" y="258" width="1" height="4" fill="#000"/>
<rect x="413" y="256" width="1" height="5" fill="#000"/>
<rect x="415" y="254" width="1" height="6" fill="#000"/>
<rect x="417" y="252" width="1" height="9" fill="#000"/>
<rect x="419" y="255" width="1" height="11" fill="#000"/>
<rect x="421" y="258" width="1" height="9" fill="#000"/>
<rect x="423" y="258" width="1" height="5" fill="#000"/>
<rect x="425" y="254" width="1" height="8" fill="#000"/>
<rect x="427" y="250" width="1" height="9" fill="#000"/>
<rect x="429" y="247" width="1" height="7" fill="#000"/>
<rect x="431" y="248" width="1" height="5" fill="#000"/>
<rect x="433" y="246" width="1" height="15" fill="#000"/>
<rect x="435" y="258" width="1" height="7" fill="#000"/>
<rect x="437" y="258" width="1" height="7" fill="#000"/>
<rect x="439" y="258" width="1" height="7" fill="#000"/>
<rect x="441" y="254" width="1" height="9" fill="#000"/>
<rect x="443" y="248" width="1" height="11" fill="#000"/>
<rect x="445" y="248" width="1" height="8" fill="#000"/>
<rect x="447" y="254" width="1" height="8" fill="#000"/>
<rect x="449" y="258" width="1" height="15" fill="#000"/>
<rect x="451" y="256" width="1" height="12" fill="#000"/>
<rect x="453" y="211" width="1" height="56" fill="#000"/>
<rect x="455" y="209" width="1" height="14" fill="#000"/>
<rect x="457" y="211" width="1" height="10" fill="#000"/>
<rect x="459" y="215" width="1" height="7" fill="#000"/>
<rect x="461" y="211" width="1" height="7" fill="#000"/>
<rect x="463" y="212" width="1" height="9" fill="#000"/>
<rect x="465" y="213" width="1" height="8" fill="#000"/>
<rect x="467" y="208" width="1" height="9" fill="#000"/>
<rect x="469" y="209" width="1" height="6" fill="#000"/>
<rect x="471" y="210" width="1" height="5" fill="#000"/>
<rect x="473" y="210" width="1" height="7" fill="#000"/>
<rect x="475" y="207" width="1" height="20" fill="#000"/>
<rect x="477" y="221" width="1" height="13" fill="#000"/>
<rect x="479" y="226" width="1" height="11" fill="#000"/>
<rect x="481" y="228" width="1" height="8" fill="#000"/>
<rect x="483" y="231" width="1" height="8" fill="#000"/>
<rect x="485" y="233" width="1" height="15" fill="#000"/>
<rect x="487" y="238" width="1" height="10" fill="#000"/>
<rect x="489" y="236" width="1" height="22" fill="#000"/>
<rect x="491" y="238" width="1" height="19" fill="#000"/>
<rect x="493" y="238" width="1" height="11" fill="#000"/>
<rect x="495" y="240" width="1" height="9" fill="#000"/>
<rect x="497" y="242" width="1" height="11" fill="#000"/>
<rect x="499" y="248" width="1" height="6" fill="#000"/>
<rect x="501" y="248" width="1" height="7" fill="#000"/>
<rect x="503" y="249" width="1" height="6" fill="#000"/>
<rect x="505" y="251" width="1" height="4" fill="#000"/>
<rect x="507" y="251" width="1" height="4" fill="#000"/>
<rect x="509" y="251" width="1" height="4" fill="#000"/>
<rect x="511" y="250" width="1" height="7" fill="#000"/>
<rect x="513" y="248" width="1" height="7" fill="#000"/>
<rect x="515" y="245" width="1" height="10" fill="#000"/>
<rect x="517" y="250" width="1" height="7" fill="#000"/>
<rect x="519" y="252" width="1" height="5" fill="#000"/>
<rect x="521" y="250" width="1" height="10" fill="#000"/>
<rect x="523" y="252" width="1" height="7" fill="#000"/>
<rect x="525" y="253" width="1" height="6" fill="#000"/>
<rect x="527" y="254" width="1" height="9" fill="#000"/>
<rect x="529" y="254" width="1" height="7" fill="#000"/>
<rect x="531" y="248" width="1" height="9" fill="#000"/>
<rect x="533" y="246" width="1" height="7" fill="#000"/>
<rect x="535" y="244" width="1" height="7" fill="#000"/>
<rect x="537" y="246" width="1" height="5" fill="#000"/>
<rect x="539" y="249" width="1" height="4" fill="#000"/>
<rect x="541" y="249" width="1" height="4" fill="#000"/>
<rect x="543" y="243" width="1" height="10" fill="#000"/>
<rect x="545" y="226" width="1" height="21" fill="#000"/>
<rect x="547" y="232" width="1" height="15" fill="#000"/>
<rect x="549" y="242" width="1" height="9" fill="#000"/>
<rect x="551" y="239" width="1" height="8" fill="#000"/>
<rect x="553" y="232" width="1" height="12" fill="#000"/>
<rect x="555" y="228" width="1" height="9" fill="#000"/>
<rect x="557" y="221" width="1" height="13" fill="#000"/>
<rect x="559" y="215" width="1" height="13" fill="#000"/>
<rect x="561" y="212" width="1" height="13" fill="#000"/>
<rect x="563" y="220" width="1" height="7" fill="#000"/>
<rect x="565" y="224" width="1" height="4" fill="#000"/>
<rect x="567" y="222" width="1" height="13" fill="#000"/>
<rect x="569" y="230" width="1" height="8" fill="#000"/>
<rect x="571" y="230" width="1" height="7" fill="#000"/>
<rect x="573" y="228" width="1" height="11" fill="#000"/>
<rect x="575" y="230" width="1" height="5" fill="#000"/>
<rect x="577" y="232" width="1" height="5" fill="#000"/>
<rect x="579" y="231" width="1" height="6" fill="#000"/>
<rect x="581" y="225" width="1" height="10" fill="#000"/>
<rect x="583" y="225" width="1" height="6" fill="#000"/>
<rect x="585" y="225" width="1" height="6" fill="#000"/>
<rect x="587" y="227" width="1" height="5" fill="#000"/>
<rect x="589" y="227" width="1" height="8" fill="#000"/>
<rect x="591" y="226" width="1" height="7" fill="#000"/>
<rect x="593" y="223" width="1" height="12" fill="#000"/>
<rect x="595" y="224" width="1" height="6" fill="#000"/>
<rect x="597" y="220" width="1" height="9" fill="#000"/>
<rect x="599" y="215" width="1" height="14" fill="#000"/>
<rect x="601" y="202" width="1" height="18" fill="#000"/>
<rect x="603" y="204" width="1" height="6" fill="#000"/>
<rect x="4" y="159" width="1" height="1" fill="#000"/>
<rect x="8" y="169" width="1" height="1" fill="#000"/>
<rect x="10" y="164" width="1" height="1" fill="#000"/>
<rect x="14" y="173" width="1" height="1" fill="#000"/>
<rect x="16" y="181" width="1" height="1" fill="#000"/>
<rect x="22" y="203" width="1" height="1" fill="#000"/>
<rect x="30" y="203" width="1" height="1" fill="#000"/>
<rect x="32" y="206" width="1" height="1" fill="#000"/>
<rect x="34" y="204" width="1" height="1" fill="#000"/>
<rect x="36" y="205" width="1" height="1" fill="#000"/>
<rect x="40" y="209" width="1" height="1" fill="#000"/>
<rect x="44" y="205" width="1" height="1" fill="#000"/>
<rect x="46" y="196" width="1" height="1" fill="#000"/>
<rect x="48" y="200" width="1" height="1" fill="#000"/>
<rect x="52" y="205" width="1" height="1" fill="#000"/>
<rect x="56" y="208" width="1" height="1" fill="#000"/>
<rect x="60" y="197" width="1" height="1" fill="#000"/>
<rect x="68" y="208" width="1" height="1" fill="#000"/>
<rect x="70" y="214" width="1" height="1" fill="#000"/>
<rect x="74" y="217" width="1" height="1" fill="#000"/>
<rect x="76" y="213" width="1" height="1" fill="#000"/>
<rect x="84" y="207" width="1" height="1" fill="#000"/>
<rect x="100" y="224" width="1" height="1" fill="#000"/>
<rect x="110" y="223" width="1" height="1" fill="#000"/>
<rect x="114" y="215" width="1" height="1" fill="#000"/>
<rect x="116" y="212" width="1" height="1" fill="#000"/>
<rect x="118" y="214" width="1" height="1" fill="#000"/>
<rect x="120" y="214" width="1" height="1" fill="#000"/>
<rect x="122" y="215" width="1" height="1" fill="#000"/>
<rect x="124" y="214" width="1" height="1" fill="#000"/>
<rect x="134" y="214" width="1" height="1" fill="#000"/>
<rect x="136" y="216" width="1" height="1" fill="#000"/>
<rect x="140" y="220" width="1" height="1" fill="#000"/>
<rect x="142" y="221" width="1" height="1" fill="#000"/>
<rect x="148" y="225" width="1" height="1" fill="#000"/>
<rect x="152" y="226" width="1" height="1" fill="#000"/>
<rect x="164" y="217" width="1" height="1" fill="#000"/>
<rect x="172" y="206" width="1" height="1" fill="#000"/>
<rect x="174" y="207" width="1" height="1" fill="#000"/>
<rect x="176" y="204" width="1" height="1" fill="#000"/>
<rect x="178" y="205" width="1" height="1" fill="#000"/>
<rect x="180" y="206" width="1" height="1" fill="#000"/>
<rect x="182" y="207" width="1" height="1" fill="#000"/>
<rect x="184" y="209" width="1" height="1" fill="#000"/>
<rect x="186" y="211" width="1" height="1" fill="#000"/>
<rect x="190" y="207" width="1" height="1" fill="#000"/>
<rect x="192" y="211" width="1" height="1" fill="#000"/>
<rect x="194" y="216" width="1" height="1" fill="#000"/>
<rect x="202" y="213" width="1" height="1" fill="#000"/>
<rect x="204" y="216" width="1" height="1" fill="#000"/>
<rect x="208" y="223" width="1" height="1" fill="#000"/>
<rect x="214" y="212" width="1" height="1" fill="#000"/>
<rect x="216" y="215" width="1" height="1" fill="#000"/>
<rect x="224" y="207" width="1" height="1" fill="#000"/>
<rect x="226" y="210" width="1" height="1" fill="#000"/>
<rect x="232" y="210" width="1" height="1" fill="#000"/>
<rect x="246" y="219" width="1" height="1" fill="#000"/>
<rect x="248" y="218" width="1" height="1" fill="#000"/>
<rect x="250" y="219" width="1" height="1" fill="#000"/>
<rect x="252" y="223" width="1" height="1" fill="#000"/>
<rect x="264" y="231" width="1" height="1" fill="#000"/>
<rect x="266" y="231" width="1" height="1" fill="#000"/>
<rect x="268" y="233" width="1" height="1" fill="#000"/>
<rect x="280" y="231" width="1" height="1" fill="#000"/>
<rect x="290" y="239" width="1" height="1" fill="#000"/>
<rect x="292" y="241" width="1" height="1" fill="#000"/>
<rect x="296" y="244" width="1" height="1" fill="#000"/>
<rect x="302" y="251" width="1" height="1" fill="#000"/>
<rect x="304" y="266" width="1" height="1" fill="#000"/>
<rect x="308" y="272" width="1" height="1" fill="#000"/>
<rect x="314" y="274" width="1" height="1" fill="#000"/>
<rect x="316" y="274" width="1" height="1" fill="#000"/>
<rect x="332" y="272" width="1" height="1" fill="#000"/>
<rect x="334" y="273" width="1" height="1" fill="#000"/>
<rect x="338" y="275" width="1" height="1" fill="#000"/>
<rect x="340" y="279" width="1" height="1" fill="#000"/>
<rect x="342" y="278" width="1" height="1" fill="#000"/>
<rect x="358" y="267" width="1" height="1" fill="#000"/>
<rect x="360" y="266" width="1" height="1" fill="#000"/>
<rect x="364" y="265" width="1" height="1" fill="#000"/>
<rect x="370" y="272" width="1" height="1" fill="#000"/>
<rect x="376" y="273" width="1" height="1" fill="#000"/>
<rect x="378" y="272" width="1" height="1" fill="#000"/>
<rect x="414" y="257" width="1" height="1" fill="#000"/>
<rect x="420" y="259" width="1" height="1" fill="#000"/>
<rect x="424" y="259" width="1" height="1" fill="#000"/>
<rect x="426" y="257" width="1" height="1" fill="#000"/>
<rect x="432" y="251" width="1" height="1" fill="#000"/>
<rect x="436" y="263" width="1" height="1" fill="#000"/>
<rect x="440" y="262" width="1" height="1" fill="#000"/>
<rect x="442" y="256" width="1" height="1" fill="#000"/>
<rect x="448" y="259" width="1" height="1" fill="#000"/>
<rect x="452" y="258" width="1" height="1" fill="#000"/>
<rect x="454" y="219" width="1" height="1" fill="#000"/>
<rect x="456" y="216" width="1" height="1" fill="#000"/>
<rect x="460" y="216" width="1" height="1" fill="#000"/>
<rect x="466" y="215" width="1" height="1" fill="#000"/>
<rect x="472" y="211" width="1" height="1" fill="#000"/>
<rect x="474" y="215" width="1" height="1" fill="#000"/>
<rect x="476" y="222" width="1" height="1" fill="#000"/>
<rect x="484" y="234" width="1" height="1" fill="#000"/>
<rect x="492" y="239" width="1" height="1" fill="#000"/>
<rect x="498" y="252" width="1" height="1" fill="#000"/>
<rect x="504" y="254" width="1" height="1" fill="#000"/>
<rect x="506" y="253" width="1" height="1" fill="#000"/>
<rect x="510" y="252" width="1" height="1" fill="#000"/>
<rect x="514" y="248" width="1" height="1" fill="#000"/>
<rect x="518" y="252" width="1" height="1" fill="#000"/>
<rect x="520" y="252" width="1" height="1" fill="#000"/>
<rect x="522" y="254" width="1" height="1" fill="#000"/>
<rect x="524" y="257" width="1" height="1" fill="#000"/>
<rect x="526" y="256" width="1" height="1" fill="#000"/>
<rect x="528" y="256" width="1" height="1" fill="#000"/>
<rect x="530" y="255" width="1" height="1" fill="#000"/>
<rect x="532" y="251" width="1" height="1" fill="#000"/>
<rect x="536" y="248" width="1" height="1" fill="#000"/>
<rect x="540" y="251" width="1" height="1" fill="#000"/>
<rect x="548" y="244" width="1" height="1" fill="#000"/>
<rect x="554" y="235" width="1" height="1" fill="#000"/>
<rect x="562" y="220" width="1" height="1" fill="#000"/>
<rect x="564" y="224" width="1" height="1" fill="#000"/>
<rect x="568" y="231" width="1" height="1" fill="#000"/>
<rect x="570" y="235" width="1" height="1" fill="#000"/>
<rect x="576" y="232" width="1" height="1" fill="#000"/>
<rect x="578" y="233" width="1" height="1" fill="#000"/>
<rect x="580" y="232" width="1" height="1" fill="#000"/>
<rect x="582" y="230" width="1" height="1" fill="#000"/>
<rect x="588" y="231" width="1" height="1" fill="#000"/>
<rect x="590" y="229" width="1" height="1" fill="#000"/>
<rect x="592" y="228" width="1" height="1" fill="#000"/>
<rect x="598" y="224" width="1" height="1" fill="#000"/>
<rect x="600" y="216" width="1" height="1" fill="#000"/>
<rect x="602" y="206" width="1" height="1" fill="#000"/>
</g>
<g shape-rendering="crispEdges">
<polyline points="3.0,368.0 5.0,370.0 7.0,373.0 9.0,369.0 11.0,367.6 13.0,369.0 16.0,373.0 19.0,376.0 22.0,379.6 24.0,378.0 27.0,374.0 29.6,372.4 32.0,374.0 36.0,374.4 39.0,375.6 41.0,374.0 43.0,370.0 45.0,365.0 47.0,363.0 49.0,370.0 51.0,367.0 53.0,364.4 55.0,366.0 57.0,363.0 59.0,360.0 61.0,358.0 63.0,358.0 65.0,362.0 67.0,363.0 69.0,369.0 71.0,372.4 73.0,369.0 75.0,365.0 77.0,364.0 80.0,362.4 83.0,360.6 86.0,360.0 89.0,361.0 91.0,364.0 93.0,366.0 96.0,363.0 98.0,367.0 100.0,370.0 102.0,369.0 104.0,365.0 106.0,365.6 108.0,368.0 110.0,367.0 112.0,363.0 115.0,360.0 117.6,357.0 120.0,359.0 123.0,359.6 126.0,359.0 129.0,359.0 132.0,361.0 135.0,357.6 137.0,360.0 139.0,364.0 141.0,369.6 143.0,363.0 145.0,365.0 147.6,370.4 150.0,365.0 152.0,362.0 154.0,363.0 156.0,359.0 158.0,358.0 160.0,359.0 162.0,355.6 164.0,356.0 166.0,353.0 169.0,351.0 172.0,350.0 175.0,350.4 178.0,350.0 181.0,352.0 183.0,353.0 185.0,355.6 187.0,352.0 189.0,355.0 191.0,356.0 193.0,360.0 195.0,357.0 197.0,353.0 199.0,360.0 201.0,363.0 204.0,365.0 206.0,369.0 207.6,371.6 209.6,366.0 211.6,356.0 213.0,353.0 215.0,359.0 217.0,360.0 220.0,357.0 223.0,354.4 226.0,354.0 229.0,356.0 232.0,355.6 234.0,357.0 235.6,355.0 237.0,369.6 239.0,363.0 241.0,359.0 244.0,362.0 247.0,361.0 250.0,363.0 253.0,365.0 256.0,367.0 259.0,366.4 262.0,368.0 264.0,367.0 267.0,367.6 271.0,366.0 273.0,359.6 275.0,363.0 277.0,365.0 279.0,362.4 281.6,359.0 284.0,363.6 286.0,368.0 288.0,365.0 290.0,367.0 292.0,370.0 295.0,371.6 297.0,366.0 299.0,368.0 302.0,372.4 305.6,377.6 308.0,374.0 310.0,372.0 313.0,375.0 315.6,376.4 319.0,374.4 322.0,374.0 323.6,375.0 326.0,369.0 329.0,364.4 331.0,369.0 334.0,366.4 337.0,367.0 340.0,369.0 343.0,370.0 344.4,363.0 346.4,357.0 349.0,354.4 352.0,356.4 355.0,359.0 358.0,360.0 361.0,359.0 363.0,357.0 365.0,357.0 367.0,361.0 370.0,363.0 373.6,365.0 376.0,363.0 379.0,361.0 382.0,359.0 384.0,352.0 387.0,348.0 389.6,346.0 392.0,350.0 394.0,347.0 396.0,346.0 397.6,353.0 400.0,356.4 403.0,358.0 406.0,357.0 409.0,358.0 412.0,358.0 415.0,355.6 417.6,356.0 419.6,361.0 422.0,359.6 425.0,356.0 428.0,351.0 431.0,350.4 433.0,356.0 435.0,360.0 438.0,362.0 440.4,358.0 443.0,352.4 445.0,356.0 447.0,361.0 449.6,365.6 451.6,362.0 452.6,350.0 454.0,344.0 457.0,343.0 460.0,342.4 463.0,344.0 466.0,344.4 469.0,343.6 472.0,343.6 473.6,347.0 475.0,353.0 477.0,357.0 480.0,358.0 483.0,360.0 485.0,365.0 487.0,363.0 489.6,367.6 493.0,362.0 496.0,365.0 499.6,367.6 502.0,365.6 504.0,367.0 507.0,365.6 511.0,365.6 513.0,362.4 516.0,365.0 519.0,363.6 522.0,365.0 525.0,367.6 528.0,367.6 530.0,361.0 532.0,358.0 535.0,357.0 537.6,359.6 540.0,359.0 542.0,360.0 544.0,353.0 545.6,349.6 547.6,355.6 549.6,358.0 552.0,352.0 555.0,349.0 557.0,346.0 559.0,343.6 561.0,345.0 563.0,349.0 565.6,350.0 567.6,355.0 570.0,357.6 573.0,355.0 576.0,356.0 579.0,355.0 581.6,351.0 584.0,353.0 587.0,357.6 590.0,354.0 593.0,353.6 596.0,353.6 598.0,349.0 600.4,344.0 602.6,340.0" fill="none" stroke="#ff0000" stroke-width="1" stroke-linejoin="round" />
<polyline points="3.0,369.0 10.0,369.0 16.0,371.0 24.0,373.6 32.0,374.0 40.0,374.0 48.0,371.0 56.0,369.0 64.0,366.0 72.0,366.4 80.0,365.6 88.0,364.4 96.0,364.4 104.0,365.6 112.0,365.0 120.0,363.0 128.0,361.6 132.0,361.0 140.0,362.0 148.0,363.6 156.0,362.4 164.0,361.0 172.0,358.0 180.0,355.6 188.0,355.6 196.0,356.0 202.0,358.0 210.0,360.6 218.0,360.0 226.0,358.4 234.0,357.6 242.0,359.0 250.0,360.0 258.0,362.0 264.0,364.0 274.0,364.0 284.0,363.0 294.0,365.0 304.0,367.0 314.0,370.4 322.0,372.4 330.0,371.6 338.0,370.0 344.0,369.0 350.0,366.0 356.0,363.6 364.0,361.6 372.0,362.4 380.0,362.0 386.0,360.0 392.0,356.4 396.0,354.4 404.0,356.0 412.0,356.6 420.0,356.6 428.0,356.0 436.0,357.0 444.0,357.6 451.0,358.0 456.0,355.0 462.0,351.6 468.0,349.2 473.0,348.4 478.0,350.0 484.0,353.0 490.0,356.4 498.0,359.6 506.0,362.0 514.0,363.0 522.0,363.6 528.0,364.4 536.0,362.4 544.0,360.6 550.0,359.0 556.0,356.4 560.0,353.6 566.0,353.0 574.0,353.6 582.0,354.4 590.0,354.4 598.0,353.6 602.6,350.4" fill="none" stroke="#000080" stroke-width="1" stroke-linejoin="round" />
<polyline points="3.0,456.0 5.0,455.0 7.0,457.0 10.0,452.0 13.0,447.0 15.0,450.0 17.0,458.0 20.0,461.6 22.0,463.0 24.0,465.0 27.0,462.0 28.4,452.0 30.0,432.0 31.6,423.6 33.0,423.0 35.0,432.0 37.0,448.0 39.0,459.0 41.0,456.0 43.0,442.0 45.0,422.0 47.0,410.0 48.4,413.0 50.0,426.0 51.6,436.0 53.0,445.0 55.0,441.0 57.0,436.0 59.0,433.0 61.0,420.0 63.0,410.0 64.4,416.0 66.4,426.0 69.0,441.0 71.0,454.0 73.0,461.0 75.0,456.0 77.0,442.0 79.0,428.0 81.0,420.0 83.0,413.0 85.0,410.0 88.0,409.0 90.0,416.0 91.6,428.0 93.0,437.0 95.0,439.0 97.0,443.0 99.0,450.0 101.0,457.0 103.0,451.0 105.0,439.0 107.0,442.0 109.0,445.0 111.0,441.0 113.0,434.0 115.0,426.0 117.0,417.0 119.0,414.4 121.0,415.0 123.0,426.0 125.0,436.0 127.0,439.0 129.0,437.0 131.0,444.0 132.0,446.0 134.0,441.0 136.0,438.0 138.0,439.0 140.0,446.0 141.6,454.0 143.0,446.0 145.0,443.0 147.0,442.4 149.0,444.0 151.0,440.0 153.0,432.0 155.0,420.0 157.0,414.0 159.6,411.6 161.6,419.0 164.0,417.0 166.0,413.0 168.0,409.0 171.0,408.4 173.0,412.0 175.0,417.0 177.0,422.0 179.0,428.0 181.0,438.0 182.4,446.0 183.6,454.0 185.0,454.0 186.4,444.0 188.4,438.0 190.4,437.0 192.4,441.0 194.0,449.0 195.6,450.0 197.0,443.0 199.0,438.4 201.0,439.0 203.0,445.0 205.0,450.0 207.0,455.0 209.6,459.0 211.0,452.0 212.4,436.0 213.6,422.0 215.0,413.6 216.4,414.4 218.0,419.0 221.0,421.0 224.0,422.0 227.0,423.0 229.0,426.0 231.0,431.0 233.0,439.0 235.0,442.4 237.0,443.0 239.0,438.0 241.0,431.0 243.0,424.0 245.0,421.0 247.0,424.0 249.0,431.0 251.0,447.0 253.0,457.0 255.0,456.0 257.0,453.0 259.0,450.4 262.0,450.0 264.0,451.0 266.0,452.0 268.0,450.0 270.0,446.0 271.6,436.0 273.0,423.0 274.0,419.6 275.6,428.0 277.6,439.0 279.6,446.0 281.0,439.0 283.0,437.0 285.0,441.0 286.4,449.0 288.0,455.0 290.0,454.0 292.0,458.0 295.0,461.0 297.0,455.0 299.0,453.6 301.0,456.0 303.0,460.0 305.6,464.0 308.0,462.0 310.0,456.0 312.4,450.4 314.4,453.0 316.4,458.0 318.4,460.4 321.0,457.0 323.0,453.0 324.4,446.0 325.6,432.0 327.0,420.0 328.4,411.0 329.6,405.0 331.0,410.0 333.0,417.0 335.0,426.0 337.0,436.0 339.0,446.0 341.6,455.0 343.0,451.0 344.4,444.0 346.0,431.0 347.6,416.0 349.0,406.0 350.0,404.4 352.0,408.0 354.0,410.0 355.6,416.0 357.0,430.0 358.4,442.0 360.0,449.0 362.0,446.0 364.0,436.0 365.6,429.6 367.6,430.0 369.0,440.0 370.4,450.0 372.0,456.0 373.6,458.0 375.6,453.0 377.6,446.0 379.6,433.0 381.6,420.0 383.6,413.0 386.0,410.0 388.0,409.0 390.0,407.6 392.0,410.4 394.0,413.0 396.0,417.0 397.6,424.0 399.0,436.0 400.4,448.0 402.0,455.6 405.0,456.0 407.6,453.0 409.6,450.0 411.6,439.0 413.6,428.0 415.6,422.0 417.6,419.6 419.0,432.0 420.4,441.0 423.0,444.0 425.0,439.0 427.0,426.0 428.4,414.0 430.0,409.0 431.6,408.4 433.0,420.0 434.4,434.0 436.0,450.0 437.6,460.0 439.6,460.4 441.6,450.0 443.6,436.0 445.6,426.0 447.6,432.0 449.0,442.0 451.0,455.0 452.4,446.0 454.0,426.0 455.6,414.0 457.6,408.0 459.6,405.6 461.6,404.4 463.6,406.0 465.6,411.0 467.6,423.0 469.6,416.0 471.6,417.0 473.6,421.0 475.0,432.0 476.4,444.0 478.0,456.0 479.6,464.0 482.0,462.0 485.0,462.4 488.0,461.0 490.0,456.0 492.0,446.0 494.0,437.0 496.0,433.0 497.6,435.0 499.6,442.0 501.6,450.0 503.6,455.6 505.6,454.4 507.6,450.0 509.6,442.0 511.6,434.0 513.6,427.6 515.6,433.0 517.6,438.0 519.6,444.0 521.6,443.0 523.6,440.0 525.6,445.0 528.0,449.6 529.6,451.0 531.0,440.0 532.4,426.0 534.0,413.0 535.6,407.6 537.0,412.0 538.4,417.0 540.0,426.0 541.6,433.0 543.6,431.0 545.6,429.0 547.6,434.0 549.6,441.0 551.6,446.0 553.6,439.0 555.6,424.0 557.6,411.0 559.6,404.4 561.6,409.0 563.6,417.0 565.6,432.0 567.6,446.0 569.6,456.0 571.2,460.0 573.0,453.0 575.0,447.0 577.0,442.0 579.0,438.0 580.4,426.0 582.0,415.0 583.6,409.6 585.6,409.6 587.0,418.0 588.4,425.0 590.0,431.0 592.0,430.0 594.0,426.0 596.0,423.0 598.0,420.0 599.6,413.0 601.2,409.6 602.6,406.4" fill="none" stroke="#20b2aa" stroke-width="1" stroke-linejoin="round" />
<polyline points="3.5,456.0 5.5,455.5 7.5,456.0 9.5,455.2 11.5,453.7 13.5,450.3 15.5,449.1 17.5,451.7 19.5,456.1 21.5,460.2 23.5,462.2 25.5,463.4 27.5,463.3 29.5,456.8 31.5,444.4 33.5,431.4 35.5,427.2 37.5,434.3 39.5,446.3 41.5,454.3 43.5,452.3 45.5,440.0 47.5,424.7 49.5,416.6 51.5,420.0 53.5,431.7 55.5,439.4 57.5,440.7 59.5,436.7 61.5,429.7 63.5,421.0 65.5,416.3 67.5,419.5 69.5,429.8 71.5,441.5 73.5,452.0 75.5,457.0 77.5,453.0 79.5,442.0 81.5,430.0 83.5,420.3 85.5,414.3 87.5,410.8 89.5,410.6 91.5,415.1 93.5,424.3 95.5,433.2 97.5,439.7 99.5,444.0 101.5,450.0 103.5,452.7 105.5,449.0 107.5,444.0 109.5,442.0 111.5,442.7 113.5,440.0 115.5,433.7 117.5,425.7 119.5,419.1 121.5,415.5 123.5,418.5 125.5,425.7 127.5,433.7 129.5,437.3 131.5,440.0 133.5,441.5 135.5,442.3 137.5,440.5 139.5,440.2 141.5,444.0 143.5,446.5 145.5,446.7 147.5,443.8 149.5,443.1 151.5,442.1 153.5,438.7 155.5,430.7 157.5,422.0 159.5,415.4 161.5,414.3 163.5,415.6 165.5,416.5 167.5,414.6 169.5,411.6 171.5,409.4 173.5,409.7 175.5,412.5 177.5,417.0 179.5,422.3 181.5,429.3 183.5,438.7 185.5,447.3 187.5,448.7 189.5,444.6 191.5,439.4 193.5,440.0 195.5,443.9 197.5,445.5 199.5,443.7 201.5,440.1 203.5,440.8 205.5,444.7 207.5,450.0 209.5,454.4 211.5,455.0 213.5,446.4 215.5,431.5 217.5,419.6 219.5,416.5 221.5,418.9 223.5,420.8 225.5,421.7 227.5,422.3 229.5,423.8 231.5,426.7 233.5,432.0 235.5,437.5 237.5,441.5 239.5,441.1 241.5,437.3 243.5,431.0 245.5,425.3 247.5,423.0 249.5,425.3 251.5,434.0 253.5,445.0 255.5,453.3 257.5,455.3 259.5,453.1 261.5,451.2 263.5,450.3 265.5,450.7 267.5,451.0 269.5,450.2 271.5,446.2 273.5,436.9 275.5,429.2 277.5,427.8 279.5,434.8 281.5,439.5 283.5,440.0 285.5,439.0 287.5,443.1 289.5,448.9 291.5,453.9 293.5,456.5 295.5,458.7 297.5,458.3 299.5,456.5 301.5,454.9 303.5,456.5 305.5,459.7 307.5,462.0 309.5,461.6 311.5,458.5 313.5,454.6 315.5,453.1 317.5,454.8 319.5,457.6 321.5,458.4 323.5,456.5 325.5,449.7 327.5,437.3 329.5,422.3 331.5,412.7 333.5,411.7 335.5,417.7 337.5,426.3 339.5,436.0 341.5,445.0 343.5,450.0 345.5,447.7 347.5,437.2 349.5,422.2 351.5,411.3 353.5,407.1 355.5,409.6 357.5,417.6 359.5,429.5 361.5,440.7 363.5,444.4 365.5,440.2 367.5,434.3 369.5,434.0 371.5,440.7 373.5,449.8 375.5,454.7 377.5,453.3 379.5,446.5 381.5,436.3 383.5,425.3 385.5,416.8 387.5,412.0 389.5,409.7 391.5,408.9 393.5,409.7 395.5,411.9 397.5,416.0 399.5,424.1 401.5,436.1 403.5,447.5 405.5,454.2 407.5,455.1 409.5,453.5 411.5,449.0 413.5,441.5 415.5,432.5 417.5,425.1 419.5,425.4 421.5,431.3 423.5,439.2 425.5,441.6 427.5,436.3 429.5,425.7 431.5,415.6 433.5,413.6 435.5,422.9 437.5,438.8 439.5,452.2 441.5,456.6 443.5,451.2 445.5,440.8 447.5,433.1 449.5,433.7 451.5,442.4 453.5,445.2 455.5,437.3 457.5,422.3 459.5,411.5 461.5,407.0 463.5,405.5 465.5,406.6 467.5,411.5 469.5,415.7 471.5,418.1 473.5,418.2 475.5,422.8 477.5,433.4 479.5,447.2 481.5,457.4 483.5,462.0 485.5,462.5 487.5,462.0 489.5,460.8 491.5,457.0 493.5,450.3 495.5,442.5 497.5,436.9 499.5,436.4 501.5,440.6 503.5,447.1 505.5,452.1 507.5,453.3 509.5,450.2 511.5,444.0 513.5,436.8 515.5,432.4 517.5,432.5 519.5,436.7 521.5,440.7 523.5,442.1 525.5,442.6 527.5,444.0 529.5,447.2 531.5,446.1 533.5,437.2 535.5,423.6 537.5,414.2 539.5,414.0 541.5,420.9 543.5,427.4 545.5,430.5 547.5,431.2 549.5,433.7 551.5,438.6 553.5,441.5 555.5,438.0 557.5,428.2 559.5,416.6 561.5,409.6 563.5,409.5 565.5,416.6 567.5,428.0 569.5,440.8 571.5,451.4 573.5,455.2 575.5,453.2 577.5,447.3 579.5,442.3 581.5,434.0 583.5,423.8 585.5,414.4 587.5,413.1 589.5,418.3 591.5,425.2 593.5,428.6 595.5,427.7 597.5,424.7 599.5,420.5 601.5,415.7 603.5,410.7" fill="none" stroke="#ff0000" stroke-width="1" stroke-dasharray="3 3" stroke-linejoin="round" />
<line x1="3" y1="502.5" x2="617" y2="502.5" stroke="#c0c0c0" stroke-width="1" stroke-dasharray="3 3" stroke-dashoffset="5" shape-rendering="crispEdges"/>
<rect x="3" y="502" width="1" height="20" fill="#c0c0c0"/>
<rect x="5" y="502" width="1" height="21" fill="#c0c0c0"/>
<rect x="7" y="502" width="1" height="22" fill="#c0c0c0"/>
<rect x="9" y="502" width="1" height="22" fill="#c0c0c0"/>
<rect x="11" y="502" width="1" height="23" fill="#c0c0c0"/>
<rect x="13" y="502" width="1" height="24" fill="#c0c0c0"/>
<rect x="15" y="502" width="1" height="25" fill="#c0c0c0"/>
<rect x="17" y="502" width="1" height="27" fill="#c0c0c0"/>
<rect x="19" y="502" width="1" height="29" fill="#c0c0c0"/>
<rect x="21" y="502" width="1" height="31" fill="#c0c0c0"/>
<rect x="23" y="502" width="1" height="33" fill="#c0c0c0"/>
<rect x="25" y="502" width="1" height="35" fill="#c0c0c0"/>
<rect x="27" y="502" width="1" height="34" fill="#c0c0c0"/>
<rect x="29" y="502" width="1" height="34" fill="#c0c0c0"/>
<rect x="31" y="502" width="1" height="34" fill="#c0c0c0"/>
<rect x="33" y="502" width="1" height="33" fill="#c0c0c0"/>
<rect x="35" y="502" width="1" height="33" fill="#c0c0c0"/>
<rect x="37" y="502" width="1" height="31" fill="#c0c0c0"/>
<rect x="39" y="502" width="1" height="30" fill="#c0c0c0"/>
<rect x="41" y="502" width="1" height="28" fill="#c0c0c0"/>
<rect x="43" y="502" width="1" height="27" fill="#c0c0c0"/>
<rect x="45" y="502" width="1" height="25" fill="#c0c0c0"/>
<rect x="47" y="502" width="1" height="24" fill="#c0c0c0"/>
<rect x="49" y="502" width="1" height="22" fill="#c0c0c0"/>
<rect x="51" y="502" width="1" height="21" fill="#c0c0c0"/>
<rect x="53" y="502" width="1" height="19" fill="#c0c0c0"/>
<rect x="55" y="502" width="1" height="18" fill="#c0c0c0"/>
<rect x="57" y="502" width="1" height="16" fill="#c0c0c0"/>
<rect x="59" y="502" width="1" height="15" fill="#c0c0c0"/>
<rect x="61" y="502" width="1" height="13" fill="#c0c0c0"/>
<rect x="63" y="502" width="1" height="13" fill="#c0c0c0"/>
<rect x="65" y="502" width="1" height="11" fill="#c0c0c0"/>
<rect x="67" y="502" width="1" height="11" fill="#c0c0c0"/>
<rect x="69" y="502" width="1" height="10" fill="#c0c0c0"/>
<rect x="71" y="502" width="1" height="10" fill="#c0c0c0"/>
<rect x="73" y="502" width="1" height="10" fill="#c0c0c0"/>
<rect x="75" y="502" width="1" height="10" fill="#c0c0c0"/>
<rect x="77" y="502" width="1" height="10" fill="#c0c0c0"/>
<rect x="79" y="502" width="1" height="9" fill="#c0c0c0"/>
<rect x="81" y="502" width="1" height="9" fill="#c0c0c0"/>
<rect x="83" y="502" width="1" height="9" fill="#c0c0c0"/>
<rect x="85" y="502" width="1" height="9" fill="#c0c0c0"/>
<rect x="87" y="502" width="1" height="9" fill="#c0c0c0"/>
<rect x="89" y="502" width="1" height="9" fill="#c0c0c0"/>
<rect x="91" y="502" width="1" height="9" fill="#c0c0c0"/>
<rect x="93" y="502" width="1" height="9" fill="#c0c0c0"/>
<rect x="95" y="502" width="1" height="9" fill="#c0c0c0"/>
<rect x="97" y="502" width="1" height="10" fill="#c0c0c0"/>
<rect x="99" y="502" width="1" height="10" fill="#c0c0c0"/>
<rect x="101" y="502" width="1" height="10" fill="#c0c0c0"/>
<rect x="103" y="502" width="1" height="10" fill="#c0c0c0"/>
<rect x="105" y="502" width="1" height="11" fill="#c0c0c0"/>
<rect x="107" y="502" width="1" height="11" fill="#c0c0c0"/>
<rect x="109" y="502" width="1" height="11" fill="#c0c0c0"/>
<rect x="111" y="502" width="1" height="11" fill="#c0c0c0"/>
<rect x="113" y="502" width="1" height="10" fill="#c0c0c0"/>
<rect x="115" y="502" width="1" height="10" fill="#c0c0c0"/>
<rect x="117" y="502" width="1" height="9" fill="#c0c0c0"/>
<rect x="119" y="502" width="1" height="8" fill="#c0c0c0"/>
<rect x="121" y="502" width="1" height="8" fill="#c0c0c0"/>
<rect x="123" y="502" width="1" height="7" fill="#c0c0c0"/>
<rect x="125" y="502" width="1" height="6" fill="#c0c0c0"/>
<rect x="127" y="502" width="1" height="5" fill="#c0c0c0"/>
<rect x="129" y="502" width="1" height="4" fill="#c0c0c0"/>
<rect x="131" y="502" width="1" height="3" fill="#c0c0c0"/>
<rect x="133" y="502" width="1" height="3" fill="#c0c0c0"/>
<rect x="135" y="502" width="1" height="2" fill="#c0c0c0"/>
<rect x="137" y="502" width="1" height="2" fill="#c0c0c0"/>
<rect x="139" y="502" width="1" height="2" fill="#c0c0c0"/>
<rect x="141" y="502" width="1" height="2" fill="#c0c0c0"/>
<rect x="143" y="502" width="1" height="3" fill="#c0c0c0"/>
<rect x="145" y="502" width="1" height="5" fill="#c0c0c0"/>
<rect x="147" y="502" width="1" height="6" fill="#c0c0c0"/>
<rect x="149" y="502" width="1" height="7" fill="#c0c0c0"/>
<rect x="151" y="502" width="1" height="7" fill="#c0c0c0"/>
<rect x="153" y="502" width="1" height="7" fill="#c0c0c0"/>
<rect x="155" y="502" width="1" height="7" fill="#c0c0c0"/>
<rect x="157" y="502" width="1" height="6" fill="#c0c0c0"/>
<rect x="159" y="502" width="1" height="6" fill="#c0c0c0"/>
<rect x="161" y="502" width="1" height="5" fill="#c0c0c0"/>
<rect x="163" y="502" width="1" height="5" fill="#c0c0c0"/>
<rect x="165" y="502" width="1" height="5" fill="#c0c0c0"/>
<rect x="167" y="502" width="1" height="4" fill="#c0c0c0"/>
<rect x="169" y="502" width="1" height="2" fill="#c0c0c0"/>
<rect x="171" y="502" width="1" height="1" fill="#c0c0c0"/>
<rect x="173" y="500" width="1" height="3" fill="#c0c0c0"/>
<rect x="175" y="499" width="1" height="4" fill="#c0c0c0"/>
<rect x="177" y="498" width="1" height="5" fill="#c0c0c0"/>
<rect x="179" y="497" width="1" height="6" fill="#c0c0c0"/>
<rect x="181" y="497" width="1" height="6" fill="#c0c0c0"/>
<rect x="183" y="496" width="1" height="7" fill="#c0c0c0"/>
<rect x="185" y="496" width="1" height="7" fill="#c0c0c0"/>
<rect x="187" y="496" width="1" height="7" fill="#c0c0c0"/>
<rect x="189" y="496" width="1" height="7" fill="#c0c0c0"/>
<rect x="191" y="496" width="1" height="7" fill="#c0c0c0"/>
<rect x="193" y="497" width="1" height="6" fill="#c0c0c0"/>
<rect x="195" y="498" width="1" height="5" fill="#c0c0c0"/>
<rect x="197" y="499" width="1" height="4" fill="#c0c0c0"/>
<rect x="199" y="500" width="1" height="3" fill="#c0c0c0"/>
<rect x="201" y="500" width="1" height="3" fill="#c0c0c0"/>
<rect x="203" y="501" width="1" height="2" fill="#c0c0c0"/>
<rect x="205" y="502" width="1" height="1" fill="#c0c0c0"/>
<rect x="207" y="502" width="1" height="3" fill="#c0c0c0"/>
<rect x="209" y="502" width="1" height="5" fill="#c0c0c0"/>
<rect x="211" y="502" width="1" height="4" fill="#c0c0c0"/>
<rect x="213" y="502" width="1" height="3" fill="#c0c0c0"/>
<rect x="215" y="502" width="1" height="3" fill="#c0c0c0"/>
<rect x="217" y="502" width="1" height="2" fill="#c0c0c0"/>
<rect x="219" y="502" width="1" height="2" fill="#c0c0c0"/>
<rect x="221" y="502" width="1" height="2" fill="#c0c0c0"/>
<rect x="223" y="502" width="1" height="1" fill="#c0c0c0"/>
<rect x="225" y="502" width="1" height="1" fill="#c0c0c0"/>
<rect x="227" y="501" width="1" height="2" fill="#c0c0c0"/>
<rect x="229" y="501" width="1" height="2" fill="#c0c0c0"/>
<rect x="231" y="500" width="1" height="3" fill="#c0c0c0"/>
<rect x="233" y="500" width="1" height="3" fill="#c0c0c0"/>
<rect x="235" y="500" width="1" height="3" fill="#c0c0c0"/>
<rect x="237" y="500" width="1" height="3" fill="#c0c0c0"/>
<rect x="239" y="501" width="1" height="2" fill="#c0c0c0"/>
<rect x="241" y="502" width="1" height="1" fill="#c0c0c0"/>
<rect x="243" y="502" width="1" height="1" fill="#c0c0c0"/>
<rect x="245" y="502" width="1" height="2" fill="#c0c0c0"/>
<rect x="247" y="502" width="1" height="3" fill="#c0c0c0"/>
<rect x="249" y="502" width="1" height="4" fill="#c0c0c0"/>
<rect x="251" y="502" width="1" height="4" fill="#c0c0c0"/>
<rect x="253" y="502" width="1" height="5" fill="#c0c0c0"/>
<rect x="255" y="502" width="1" height="6" fill="#c0c0c0"/>
<rect x="257" y="502" width="1" height="7" fill="#c0c0c0"/>
<rect x="259" y="502" width="1" height="7" fill="#c0c0c0"/>
<rect x="261" y="502" width="1" height="8" fill="#c0c0c0"/>
<rect x="263" y="502" width="1" height="9" fill="#c0c0c0"/>
<rect x="265" y="502" width="1" height="9" fill="#c0c0c0"/>
<rect x="267" y="502" width="1" height="10" fill="#c0c0c0"/>
<rect x="269" y="502" width="1" height="10" fill="#c0c0c0"/>
<rect x="271" y="502" width="1" height="10" fill="#c0c0c0"/>
<rect x="273" y="502" width="1" height="10" fill="#c0c0c0"/>
<rect x="275" y="502" width="1" height="10" fill="#c0c0c0"/>
<rect x="277" y="502" width="1" height="9" fill="#c0c0c0"/>
<rect x="279" y="502" width="1" height="9" fill="#c0c0c0"/>
<rect x="281" y="502" width="1" height="9" fill="#c0c0c0"/>
<rect x="283" y="502" width="1" height="9" fill="#c0c0c0"/>
<rect x="285" y="502" width="1" height="9" fill="#c0c0c0"/>
<rect x="287" y="502" width="1" height="9" fill="#c0c0c0"/>
<rect x="289" y="502" width="1" height="9" fill="#c0c0c0"/>
<rect x="291" y="502" width="1" height="10" fill="#c0c0c0"/>
<rect x="293" y="502" width="1" height="10" fill="#c0c0c0"/>
<rect x="295" y="502" width="1" height="12" fill="#c0c0c0"/>
<rect x="297" y="502" width="1" height="13" fill="#c0c0c0"/>
<rect x="299" y="502" width="1" height="15" fill="#c0c0c0"/>
<rect x="301" y="502" width="1" height="16" fill="#c0c0c0"/>
<rect x="303" y="502" width="1" height="18" fill="#c0c0c0"/>
<rect x="305" y="502" width="1" height="20" fill="#c0c0c0"/>
<rect x="307" y="502" width="1" height="21" fill="#c0c0c0"/>
<rect x="309" y="502" width="1" height="22" fill="#c0c0c0"/>
<rect x="311" y="502" width="1" height="23" fill="#c0c0c0"/>
<rect x="313" y="502" width="1" height="24" fill="#c0c0c0"/>
<rect x="315" y="502" width="1" height="25" fill="#c0c0c0"/>
<rect x="317" y="502" width="1" height="26" fill="#c0c0c0"/>
<rect x="319" y="502" width="1" height="26" fill="#c0c0c0"/>
<rect x="321" y="502" width="1" height="27" fill="#c0c0c0"/>
<rect x="323" y="502" width="1" height="27" fill="#c0c0c0"/>
<rect x="325" y="502" width="1" height="27" fill="#c0c0c0"/>
<rect x="327" y="502" width="1" height="26" fill="#c0c0c0"/>
<rect x="329" y="502" width="1" height="26" fill="#c0c0c0"/>
<rect x="331" y="502" width="1" height="24" fill="#c0c0c0"/>
<rect x="333" y="502" width="1" height="22" fill="#c0c0c0"/>
<rect x="335" y="502" width="1" height="20" fill="#c0c0c0"/>
<rect x="337" y="502" width="1" height="19" fill="#c0c0c0"/>
<rect x="339" y="502" width="1" height="18" fill="#c0c0c0"/>
<rect x="341" y="502" width="1" height="17" fill="#c0c0c0"/>
<rect x="343" y="502" width="1" height="15" fill="#c0c0c0"/>
<rect x="345" y="502" width="1" height="14" fill="#c0c0c0"/>
<rect x="347" y="502" width="1" height="12" fill="#c0c0c0"/>
<rect x="349" y="502" width="1" height="10" fill="#c0c0c0"/>
<rect x="351" y="502" width="1" height="8" fill="#c0c0c0"/>
<rect x="353" y="502" width="1" height="7" fill="#c0c0c0"/>
<rect x="355" y="502" width="1" height="5" fill="#c0c0c0"/>
<rect x="357" y="502" width="1" height="4" fill="#c0c0c0"/>
<rect x="359" y="502" width="1" height="3" fill="#c0c0c0"/>
<rect x="361" y="502" width="1" height="2" fill="#c0c0c0"/>
<rect x="363" y="502" width="1" height="2" fill="#c0c0c0"/>
<rect x="365" y="502" width="1" height="2" fill="#c0c0c0"/>
<rect x="367" y="502" width="1" height="2" fill="#c0c0c0"/>
<rect x="369" y="502" width="1" height="2" fill="#c0c0c0"/>
<rect x="371" y="502" width="1" height="2" fill="#c0c0c0"/>
<rect x="373" y="502" width="1" height="2" fill="#c0c0c0"/>
<rect x="375" y="502" width="1" height="2" fill="#c0c0c0"/>
<rect x="377" y="502" width="1" height="2" fill="#c0c0c0"/>
<rect x="379" y="502" width="1" height="2" fill="#c0c0c0"/>
<rect x="381" y="502" width="1" height="2" fill="#c0c0c0"/>
<rect x="383" y="502" width="1" height="2" fill="#c0c0c0"/>
<rect x="385" y="502" width="1" height="1" fill="#c0c0c0"/>
<rect x="387" y="500" width="1" height="3" fill="#c0c0c0"/>
<rect x="389" y="499" width="1" height="4" fill="#c0c0c0"/>
<rect x="391" y="497" width="1" height="6" fill="#c0c0c0"/>
<rect x="393" y="496" width="1" height="7" fill="#c0c0c0"/>
<rect x="395" y="494" width="1" height="9" fill="#c0c0c0"/>
<rect x="397" y="494" width="1" height="9" fill="#c0c0c0"/>
<rect x="399" y="494" width="1" height="9" fill="#c0c0c0"/>
<rect x="401" y="494" width="1" height="9" fill="#c0c0c0"/>
<rect x="403" y="495" width="1" height="8" fill="#c0c0c0"/>
<rect x="405" y="496" width="1" height="7" fill="#c0c0c0"/>
<rect x="407" y="496" width="1" height="7" fill="#c0c0c0"/>
<rect x="409" y="496" width="1" height="7" fill="#c0c0c0"/>
<rect x="411" y="497" width="1" height="6" fill="#c0c0c0"/>
<rect x="413" y="498" width="1" height="5" fill="#c0c0c0"/>
<rect x="415" y="498" width="1" height="5" fill="#c0c0c0"/>
<rect x="417" y="499" width="1" height="4" fill="#c0c0c0"/>
<rect x="419" y="499" width="1" height="4" fill="#c0c0c0"/>
<rect x="421" y="499" width="1" height="4" fill="#c0c0c0"/>
<rect x="423" y="499" width="1" height="4" fill="#c0c0c0"/>
<rect x="425" y="499" width="1" height="4" fill="#c0c0c0"/>
<rect x="427" y="499" width="1" height="4" fill="#c0c0c0"/>
<rect x="429" y="499" width="1" height="4" fill="#c0c0c0"/>
<rect x="431" y="499" width="1" height="4" fill="#c0c0c0"/>
<rect x="433" y="499" width="1" height="4" fill="#c0c0c0"/>
<rect x="435" y="499" width="1" height="4" fill="#c0c0c0"/>
<rect x="437" y="499" width="1" height="4" fill="#c0c0c0"/>
<rect x="439" y="500" width="1" height="3" fill="#c0c0c0"/>
<rect x="441" y="500" width="1" height="3" fill="#c0c0c0"/>
<rect x="443" y="500" width="1" height="3" fill="#c0c0c0"/>
<rect x="445" y="500" width="1" height="3" fill="#c0c0c0"/>
<rect x="447" y="500" width="1" height="3" fill="#c0c0c0"/>
<rect x="449" y="500" width="1" height="3" fill="#c0c0c0"/>
<rect x="451" y="500" width="1" height="3" fill="#c0c0c0"/>
<rect x="453" y="497" width="1" height="6" fill="#c0c0c0"/>
<rect x="455" y="493" width="1" height="10" fill="#c0c0c0"/>
<rect x="457" y="488" width="1" height="15" fill="#c0c0c0"/>
<rect x="459" y="485" width="1" height="18" fill="#c0c0c0"/>
<rect x="461" y="482" width="1" height="21" fill="#c0c0c0"/>
<rect x="463" y="480" width="1" height="23" fill="#c0c0c0"/>
<rect x="465" y="479" width="1" height="24" fill="#c0c0c0"/>
<rect x="467" y="478" width="1" height="25" fill="#c0c0c0"/>
<rect x="469" y="477" width="1" height="26" fill="#c0c0c0"/>
<rect x="471" y="477" width="1" height="26" fill="#c0c0c0"/>
<rect x="473" y="476" width="1" height="27" fill="#c0c0c0"/>
<rect x="475" y="477" width="1" height="26" fill="#c0c0c0"/>
<rect x="477" y="478" width="1" height="25" fill="#c0c0c0"/>
<rect x="479" y="482" width="1" height="21" fill="#c0c0c0"/>
<rect x="481" y="486" width="1" height="17" fill="#c0c0c0"/>
<rect x="483" y="491" width="1" height="12" fill="#c0c0c0"/>
<rect x="485" y="496" width="1" height="7" fill="#c0c0c0"/>
<rect x="487" y="500" width="1" height="3" fill="#c0c0c0"/>
<rect x="489" y="502" width="1" height="1" fill="#c0c0c0"/>
<rect x="491" y="502" width="1" height="1" fill="#c0c0c0"/>
<rect x="493" y="502" width="1" height="2" fill="#c0c0c0"/>
<rect x="495" y="502" width="1" height="3" fill="#c0c0c0"/>
<rect x="497" y="502" width="1" height="4" fill="#c0c0c0"/>
<rect x="499" y="502" width="1" height="5" fill="#c0c0c0"/>
<rect x="501" y="502" width="1" height="6" fill="#c0c0c0"/>
<rect x="503" y="502" width="1" height="7" fill="#c0c0c0"/>
<rect x="505" y="502" width="1" height="7" fill="#c0c0c0"/>
<rect x="507" y="502" width="1" height="8" fill="#c0c0c0"/>
<rect x="509" y="502" width="1" height="9" fill="#c0c0c0"/>
<rect x="511" y="502" width="1" height="9" fill="#c0c0c0"/>
<rect x="513" y="502" width="1" height="9" fill="#c0c0c0"/>
<rect x="515" y="502" width="1" height="9" fill="#c0c0c0"/>
<rect x="517" y="502" width="1" height="9" fill="#c0c0c0"/>
<rect x="519" y="502" width="1" height="9" fill="#c0c0c0"/>
<rect x="521" y="502" width="1" height="9" fill="#c0c0c0"/>
<rect x="523" y="502" width="1" height="9" fill="#c0c0c0"/>
<rect x="525" y="502" width="1" height="9" fill="#c0c0c0"/>
<rect x="527" y="502" width="1" height="9" fill="#c0c0c0"/>
<rect x="529" y="502" width="1" height="8" fill="#c0c0c0"/>
<rect x="531" y="502" width="1" height="8" fill="#c0c0c0"/>
<rect x="533" y="502" width="1" height="7" fill="#c0c0c0"/>
<rect x="535" y="502" width="1" height="7" fill="#c0c0c0"/>
<rect x="537" y="502" width="1" height="6" fill="#c0c0c0"/>
<rect x="539" y="502" width="1" height="5" fill="#c0c0c0"/>
<rect x="541" y="502" width="1" height="5" fill="#c0c0c0"/>
<rect x="543" y="502" width="1" height="4" fill="#c0c0c0"/>
<rect x="545" y="502" width="1" height="3" fill="#c0c0c0"/>
<rect x="547" y="502" width="1" height="2" fill="#c0c0c0"/>
<rect x="549" y="501" width="1" height="2" fill="#c0c0c0"/>
<rect x="551" y="500" width="1" height="3" fill="#c0c0c0"/>
<rect x="553" y="498" width="1" height="5" fill="#c0c0c0"/>
<rect x="555" y="496" width="1" height="7" fill="#c0c0c0"/>
<rect x="557" y="494" width="1" height="9" fill="#c0c0c0"/>
<rect x="559" y="492" width="1" height="11" fill="#c0c0c0"/>
<rect x="561" y="490" width="1" height="13" fill="#c0c0c0"/>
<rect x="563" y="489" width="1" height="14" fill="#c0c0c0"/>
<rect x="565" y="489" width="1" height="14" fill="#c0c0c0"/>
<rect x="567" y="490" width="1" height="13" fill="#c0c0c0"/>
<rect x="569" y="491" width="1" height="12" fill="#c0c0c0"/>
<rect x="571" y="492" width="1" height="11" fill="#c0c0c0"/>
<rect x="573" y="493" width="1" height="10" fill="#c0c0c0"/>
<rect x="575" y="493" width="1" height="10" fill="#c0c0c0"/>
<rect x="577" y="494" width="1" height="9" fill="#c0c0c0"/>
<rect x="579" y="494" width="1" height="9" fill="#c0c0c0"/>
<rect x="581" y="494" width="1" height="9" fill="#c0c0c0"/>
<rect x="583" y="495" width="1" height="8" fill="#c0c0c0"/>
<rect x="585" y="495" width="1" height="8" fill="#c0c0c0"/>
<rect x="587" y="495" width="1" height="8" fill="#c0c0c0"/>
<rect x="589" y="495" width="1" height="8" fill="#c0c0c0"/>
<rect x="591" y="495" width="1" height="8" fill="#c0c0c0"/>
<rect x="593" y="496" width="1" height="7" fill="#c0c0c0"/>
<rect x="595" y="496" width="1" height="7" fill="#c0c0c0"/>
<rect x="597" y="496" width="1" height="7" fill="#c0c0c0"/>
<rect x="599" y="495" width="1" height="8" fill="#c0c0c0"/>
<rect x="601" y="493" width="1" height="10" fill="#c0c0c0"/>
<rect x="603" y="491" width="1" height="12" fill="#c0c0c0"/>
<polyline points="3.8,522.0 11.0,521.0 17.5,523.0 25.0,528.7 32.5,533.0 37.5,534.5 45.0,531.0 52.5,527.5 60.0,522.0 65.0,517.5 70.0,515.7 80.0,515.0 90.0,513.7 97.5,511.0 105.0,511.0 112.5,512.5 120.0,510.7 127.5,507.5 135.0,505.5 142.5,505.5 150.0,507.0 157.5,508.0 165.0,507.7 170.0,503.7 175.0,500.5 180.0,498.0 185.0,496.7 190.0,496.0 197.5,497.0 202.5,498.7 208.7,502.0 215.0,503.7 221.0,504.5 226.0,503.7 231.0,502.0 237.5,501.0 242.5,502.0 250.0,503.7 257.5,506.0 265.0,509.5 272.5,511.0 280.0,510.7 287.5,509.5 292.5,509.5 300.0,512.5 307.5,517.5 315.0,523.0 322.5,527.0 330.0,527.0 340.0,522.0 347.5,517.5 355.0,511.0 362.5,506.0 370.0,505.0 380.0,505.0 386.0,504.5 392.5,501.0 398.7,496.0 405.0,495.0 411.0,495.5 417.5,497.0 425.0,498.0 435.0,499.0 445.0,500.0 452.5,500.5 457.5,497.0 462.5,491.0 467.5,484.5 472.5,479.5 477.5,478.0 481.0,478.7 485.0,482.5 490.0,488.7 495.0,495.0 498.7,499.5 502.5,503.0 507.5,507.0 513.7,509.5 520.0,510.5 527.5,510.5 535.0,509.5 541.0,507.5 547.5,503.7 553.7,500.0 560.0,496.0 566.0,492.5 571.0,490.0 576.0,490.5 582.5,492.0 588.7,493.7 595.0,495.0 600.0,495.0 603.0,493.7" fill="none" stroke="#ff0000" stroke-width="1" stroke-dasharray="3 3" stroke-linejoin="round" />
</g>
<rect x="2" y="2" width="616" height="1" fill="#000"/>
<rect x="2" y="2" width="1" height="538" fill="#000"/>
<rect x="617" y="2" width="1" height="538" fill="#000"/>
<rect x="2" y="319" width="616" height="1" fill="#000"/>
<rect x="2" y="320" width="616" height="1" fill="#fff"/>
<rect x="2" y="321" width="616" height="1" fill="#000"/>
<rect x="2" y="395" width="616" height="1" fill="#000"/>
<rect x="2" y="396" width="616" height="1" fill="#fff"/>
<rect x="2" y="397" width="616" height="1" fill="#000"/>
<rect x="2" y="469" width="616" height="1" fill="#000"/>
<rect x="2" y="470" width="616" height="1" fill="#fff"/>
<rect x="2" y="471" width="616" height="1" fill="#000"/>
<rect x="2" y="539" width="616" height="1" fill="#000"/>
<rect x="618" y="19" width="2" height="1" fill="#000"/>
<text x="623" y="23" fill="#000" stroke="#000" stroke-width="0.2" textLength="33.0" lengthAdjust="spacingAndGlyphs">1.09410</text>
<rect x="618" y="52" width="2" height="1" fill="#000"/>
<text x="623" y="56" fill="#000" stroke="#000" stroke-width="0.2" textLength="33.0" lengthAdjust="spacingAndGlyphs">1.08950</text>
<rect x="618" y="85" width="2" height="1" fill="#000"/>
<text x="623" y="89" fill="#000" stroke="#000" stroke-width="0.2" textLength="33.0" lengthAdjust="spacingAndGlyphs">1.08480</text>
<rect x="618" y="118" width="2" height="1" fill="#000"/>
<text x="623" y="122" fill="#000" stroke="#000" stroke-width="0.2" textLength="33.0" lengthAdjust="spacingAndGlyphs">1.08020</text>
<rect x="618" y="151" width="2" height="1" fill="#000"/>
<text x="623" y="155" fill="#000" stroke="#000" stroke-width="0.2" textLength="33.0" lengthAdjust="spacingAndGlyphs">1.07560</text>
<rect x="618" y="184" width="2" height="1" fill="#000"/>
<text x="623" y="188" fill="#000" stroke="#000" stroke-width="0.2" textLength="33.0" lengthAdjust="spacingAndGlyphs">1.07100</text>
<rect x="618" y="217" width="2" height="1" fill="#000"/>
<text x="623" y="221" fill="#000" stroke="#000" stroke-width="0.2" textLength="33.0" lengthAdjust="spacingAndGlyphs">1.06630</text>
<rect x="618" y="250" width="2" height="1" fill="#000"/>
<text x="623" y="254" fill="#000" stroke="#000" stroke-width="0.2" textLength="33.0" lengthAdjust="spacingAndGlyphs">1.06170</text>
<rect x="618" y="283" width="2" height="1" fill="#000"/>
<text x="623" y="287" fill="#000" stroke="#000" stroke-width="0.2" textLength="33.0" lengthAdjust="spacingAndGlyphs">1.05710</text>
<rect x="618" y="316" width="2" height="1" fill="#000"/>
<text x="623" y="320" fill="#000" stroke="#000" stroke-width="0.2" textLength="33.0" lengthAdjust="spacingAndGlyphs">1.05240</text>
<rect x="619" y="199" width="41" height="11" fill="#000"/>
<text x="623" y="208" fill="#fff" stroke="#fff" stroke-width="0.2" textLength="33.0" lengthAdjust="spacingAndGlyphs">1.06820</text>
<rect x="619" y="149" width="41" height="11" fill="#ff0000"/>
<text x="623" y="158" fill="#fff" stroke="#fff" stroke-width="0.2" textLength="33.0" lengthAdjust="spacingAndGlyphs">1.07500</text>
<rect x="619" y="167" width="41" height="11" fill="#ff0000"/>
<text x="623" y="176" fill="#fff" stroke="#fff" stroke-width="0.2" textLength="33.0" lengthAdjust="spacingAndGlyphs">1.07250</text>
<rect x="619" y="206" width="41" height="11" fill="#008000"/>
<text x="623" y="215" fill="#fff" stroke="#fff" stroke-width="0.2" textLength="33.0" lengthAdjust="spacingAndGlyphs">1.06700</text>
<rect x="619" y="228" width="41" height="11" fill="#008000"/>
<text x="623" y="237" fill="#fff" stroke="#fff" stroke-width="0.2" textLength="33.0" lengthAdjust="spacingAndGlyphs">1.06400</text>
<rect x="619" y="255" width="41" height="11" fill="#008000"/>
<text x="623" y="264" fill="#fff" stroke="#fff" stroke-width="0.2" textLength="33.0" lengthAdjust="spacingAndGlyphs">1.06022</text>
<rect x="618" y="323" width="2" height="1" fill="#000"/>
<text x="621" y="332" fill="#000" stroke="#000" stroke-width="0.2" textLength="15.0" lengthAdjust="spacingAndGlyphs">100</text>
<rect x="618" y="344" width="2" height="1" fill="#000"/>
<text x="621" y="349" fill="#000" stroke="#000" stroke-width="0.2" textLength="10.0" lengthAdjust="spacingAndGlyphs">70</text>
<rect x="618" y="373" width="2" height="1" fill="#000"/>
<text x="621" y="377" fill="#000" stroke="#000" stroke-width="0.2" textLength="10.0" lengthAdjust="spacingAndGlyphs">30</text>
<rect x="618" y="394" width="2" height="1" fill="#000"/>
<text x="621" y="392" fill="#000" stroke="#000" stroke-width="0.2" textLength="5.0" lengthAdjust="spacingAndGlyphs">0</text>
<rect x="618" y="399" width="2" height="1" fill="#000"/>
<text x="621" y="408" fill="#000" stroke="#000" stroke-width="0.2" textLength="15.0" lengthAdjust="spacingAndGlyphs">100</text>
<rect x="618" y="412" width="2" height="1" fill="#000"/>
<text x="621" y="416" fill="#000" stroke="#000" stroke-width="0.2" textLength="10.0" lengthAdjust="spacingAndGlyphs">80</text>
<rect x="618" y="454" width="2" height="1" fill="#000"/>
<text x="621" y="458" fill="#000" stroke="#000" stroke-width="0.2" textLength="10.0" lengthAdjust="spacingAndGlyphs">20</text>
<rect x="618" y="468" width="2" height="1" fill="#000"/>
<text x="621" y="466" fill="#000" stroke="#000" stroke-width="0.2" textLength="5.0" lengthAdjust="spacingAndGlyphs">0</text>
<rect x="618" y="473" width="2" height="1" fill="#000"/>
<text x="621" y="482" fill="#000" stroke="#000" stroke-width="0.2" textLength="37.5" lengthAdjust="spacingAndGlyphs">0.002001</text>
<rect x="618" y="502" width="2" height="1" fill="#000"/>
<text x="621" y="506" fill="#000" stroke="#000" stroke-width="0.2" textLength="17.7" lengthAdjust="spacingAndGlyphs">0.00</text>
<rect x="618" y="538" width="2" height="1" fill="#000"/>
<text x="621" y="536" fill="#000" stroke="#000" stroke-width="0.2" textLength="39.8" lengthAdjust="spacingAndGlyphs">-0.002494</text>
<rect x="3" y="540" width="1" height="3" fill="#000"/>
<text x="2" y="552" fill="#000" stroke="#000" stroke-width="0.2" textLength="51.0" lengthAdjust="spacingAndGlyphs">30 Mar 2017</text>
<rect x="67" y="540" width="1" height="3" fill="#000"/>
<text x="66" y="552" fill="#000" stroke="#000" stroke-width="0.2" textLength="55.0" lengthAdjust="spacingAndGlyphs">31 Mar 19:00</text>
<rect x="131" y="540" width="1" height="3" fill="#000"/>
<text x="130" y="552" fill="#000" stroke="#000" stroke-width="0.2" textLength="49.0" lengthAdjust="spacingAndGlyphs">4 Apr 03:00</text>
<rect x="195" y="540" width="1" height="3" fill="#000"/>
<text x="194" y="552" fill="#000" stroke="#000" stroke-width="0.2" textLength="49.0" lengthAdjust="spacingAndGlyphs">5 Apr 11:00</text>
<rect x="259" y="540" width="1" height="3" fill="#000"/>
<text x="258" y="552" fill="#000" stroke="#000" stroke-width="0.2" textLength="49.0" lengthAdjust="spacingAndGlyphs">6 Apr 19:00</text>
<rect x="323" y="540" width="1" height="3" fill="#000"/>
<text x="322" y="552" fill="#000" stroke="#000" stroke-width="0.2" textLength="54.0" lengthAdjust="spacingAndGlyphs">10 Apr 03:00</text>
<rect x="387" y="540" width="1" height="3" fill="#000"/>
<text x="386" y="552" fill="#000" stroke="#000" stroke-width="0.2" textLength="54.0" lengthAdjust="spacingAndGlyphs">11 Apr 11:00</text>
<rect x="451" y="540" width="1" height="3" fill="#000"/>
<text x="450" y="552" fill="#000" stroke="#000" stroke-width="0.2" textLength="54.0" lengthAdjust="spacingAndGlyphs">12 Apr 19:00</text>
<rect x="515" y="540" width="1" height="3" fill="#000"/>
<text x="514" y="552" fill="#000" stroke="#000" stroke-width="0.2" textLength="54.0" lengthAdjust="spacingAndGlyphs">14 Apr 03:00</text>
<rect x="579" y="540" width="1" height="3" fill="#000"/>
<text x="578" y="552" fill="#000" stroke="#000" stroke-width="0.2" textLength="54.0" lengthAdjust="spacingAndGlyphs">18 Apr 01:00</text>
<path d="M6 9h7l-3.5 4z" fill="#000" shape-rendering="crispEdges"/>
<text x="18.5" y="14" fill="#000" stroke="#000" stroke-width="0.2" textLength="53.0" lengthAdjust="spacingAndGlyphs">EURUSD,H1</text>
<text x="78.4" y="14" fill="#000" stroke="#000" stroke-width="0.2" textLength="140.4" lengthAdjust="spacingAndGlyphs">1.06776 1.06823 1.06765 1.06820</text>
<text x="7.5" y="334" fill="#000" stroke="#000" stroke-width="0.2" textLength="150.0" lengthAdjust="spacingAndGlyphs">RSI(14) 75.5344  -&gt;MA(18) 61.5945</text>
<text x="7.5" y="410" fill="#000" stroke="#000" stroke-width="0.2" textLength="120.5" lengthAdjust="spacingAndGlyphs">Stoch(5,3,3) 90.0280 86.0332</text>
<text x="7.5" y="484" fill="#000" stroke="#000" stroke-width="0.2" textLength="148.5" lengthAdjust="spacingAndGlyphs">MACD(12,26,9) 0.000892 0.000542</text>
</svg>
</body></html>
